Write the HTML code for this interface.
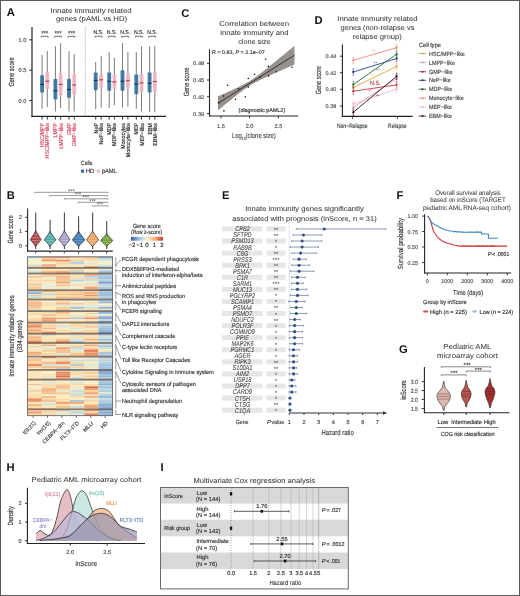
<!DOCTYPE html>
<html><head><meta charset="utf-8"><title>Figure</title>
<style>
html,body{margin:0;padding:0;background:#fff;}
body{width:520px;height:596px;overflow:hidden;}
svg{display:block;font-family:"Liberation Sans",sans-serif;will-change:transform;text-rendering:geometricPrecision;filter:blur(0.45px);}
</style></head>
<body>
<svg width="520" height="596" viewBox="0 0 520 596">
<rect x="0" y="0" width="520" height="596" fill="#ffffff"/>
<text x="6.80" y="16.40" font-size="11.2" fill="#111" font-weight="bold">A</text>
<text x="91.10" y="12.80" font-size="6.9" fill="#3a3a3a" text-anchor="middle" textLength="81.00" lengthAdjust="spacingAndGlyphs" stroke="#3a3a3a" stroke-width="0.05">Innate immunity related</text>
<text x="91.50" y="20.90" font-size="6.9" fill="#3a3a3a" text-anchor="middle" textLength="71.00" lengthAdjust="spacingAndGlyphs" stroke="#3a3a3a" stroke-width="0.05">genes (pAML vs HD)</text>
<line x1="32.00" y1="27.00" x2="32.00" y2="116.90" stroke="#222" stroke-width="1.2"/>
<line x1="31.40" y1="116.40" x2="166.00" y2="116.40" stroke="#222" stroke-width="1.2"/>
<line x1="29.30" y1="39.80" x2="32.00" y2="39.80" stroke="#222" stroke-width="1.0"/>
<text x="26.30" y="41.80" font-size="5.6" fill="#555" text-anchor="end" stroke="#555" stroke-width="0.16">1.0</text>
<line x1="29.30" y1="70.20" x2="32.00" y2="70.20" stroke="#222" stroke-width="1.0"/>
<text x="26.30" y="72.20" font-size="5.6" fill="#555" text-anchor="end" stroke="#555" stroke-width="0.16">0.5</text>
<line x1="29.30" y1="100.60" x2="32.00" y2="100.60" stroke="#222" stroke-width="1.0"/>
<text x="26.30" y="102.60" font-size="5.6" fill="#555" text-anchor="end" stroke="#555" stroke-width="0.16">0.0</text>
<text x="13.70" y="72.00" font-size="7.6" fill="#333" text-anchor="middle" textLength="29.00" lengthAdjust="spacingAndGlyphs" transform="rotate(-90 13.70 72.00)" stroke="#333" stroke-width="0.16">Gene score</text>
<line x1="85.30" y1="27.00" x2="85.30" y2="116.00" stroke="#8a8a98" stroke-width="0.8" stroke-dasharray="0.8 1.0"/>
<line x1="42.10" y1="55.00" x2="42.10" y2="108.70" stroke="#7c7c7c" stroke-width="1.0"/>
<rect x="40.15" y="75.20" width="3.90" height="17.30" fill="#2f6e9c" rx="0.8" fill-opacity="0.88"/>
<line x1="40.15" y1="84.40" x2="44.05" y2="84.40" stroke="#17324f" stroke-width="1.1"/>
<line x1="47.30" y1="51.00" x2="47.30" y2="107.00" stroke="#7c7c7c" stroke-width="1.0"/>
<rect x="45.35" y="72.10" width="3.90" height="16.90" fill="#f3b5c0" rx="0.8" fill-opacity="0.88"/>
<line x1="45.35" y1="81.20" x2="49.25" y2="81.20" stroke="#b2384f" stroke-width="1.1"/>
<line x1="55.40" y1="46.30" x2="55.40" y2="111.50" stroke="#7c7c7c" stroke-width="1.0"/>
<rect x="53.45" y="79.00" width="3.90" height="20.40" fill="#2f6e9c" rx="0.8" fill-opacity="0.88"/>
<line x1="53.45" y1="90.80" x2="57.35" y2="90.80" stroke="#17324f" stroke-width="1.1"/>
<line x1="60.60" y1="43.20" x2="60.60" y2="108.00" stroke="#7c7c7c" stroke-width="1.0"/>
<rect x="58.65" y="73.20" width="3.90" height="22.40" fill="#f3b5c0" rx="0.8" fill-opacity="0.88"/>
<line x1="58.65" y1="84.40" x2="62.55" y2="84.40" stroke="#b2384f" stroke-width="1.1"/>
<line x1="69.00" y1="51.30" x2="69.00" y2="111.50" stroke="#7c7c7c" stroke-width="1.0"/>
<rect x="67.05" y="78.70" width="3.90" height="19.00" fill="#2f6e9c" rx="0.8" fill-opacity="0.88"/>
<line x1="67.05" y1="89.60" x2="70.95" y2="89.60" stroke="#17324f" stroke-width="1.1"/>
<line x1="74.20" y1="54.00" x2="74.20" y2="111.50" stroke="#7c7c7c" stroke-width="1.0"/>
<rect x="72.25" y="74.40" width="3.90" height="20.40" fill="#f3b5c0" rx="0.8" fill-opacity="0.88"/>
<line x1="72.25" y1="85.00" x2="76.15" y2="85.00" stroke="#b2384f" stroke-width="1.1"/>
<line x1="95.70" y1="61.90" x2="95.70" y2="109.20" stroke="#7c7c7c" stroke-width="1.0"/>
<rect x="93.75" y="72.50" width="3.90" height="17.70" fill="#2f6e9c" rx="0.8" fill-opacity="0.88"/>
<line x1="93.75" y1="80.40" x2="97.65" y2="80.40" stroke="#17324f" stroke-width="1.1"/>
<line x1="101.20" y1="55.90" x2="101.20" y2="107.50" stroke="#7c7c7c" stroke-width="1.0"/>
<rect x="99.25" y="74.00" width="3.90" height="13.90" fill="#f3b5c0" rx="0.8" fill-opacity="0.88"/>
<line x1="99.25" y1="79.80" x2="103.15" y2="79.80" stroke="#b2384f" stroke-width="1.1"/>
<line x1="109.20" y1="52.10" x2="109.20" y2="108.00" stroke="#7c7c7c" stroke-width="1.0"/>
<rect x="107.25" y="72.50" width="3.90" height="18.30" fill="#2f6e9c" rx="0.8" fill-opacity="0.88"/>
<line x1="107.25" y1="81.30" x2="111.15" y2="81.30" stroke="#17324f" stroke-width="1.1"/>
<line x1="114.40" y1="57.90" x2="114.40" y2="105.20" stroke="#7c7c7c" stroke-width="1.0"/>
<rect x="112.45" y="74.40" width="3.90" height="14.60" fill="#f3b5c0" rx="0.8" fill-opacity="0.88"/>
<line x1="112.45" y1="81.90" x2="116.35" y2="81.90" stroke="#b2384f" stroke-width="1.1"/>
<line x1="122.50" y1="42.90" x2="122.50" y2="107.50" stroke="#7c7c7c" stroke-width="1.0"/>
<rect x="120.55" y="70.20" width="3.90" height="20.60" fill="#2f6e9c" rx="0.8" fill-opacity="0.88"/>
<line x1="120.55" y1="81.20" x2="124.45" y2="81.20" stroke="#17324f" stroke-width="1.1"/>
<line x1="127.90" y1="52.10" x2="127.90" y2="106.70" stroke="#7c7c7c" stroke-width="1.0"/>
<rect x="125.95" y="73.20" width="3.90" height="14.70" fill="#f3b5c0" rx="0.8" fill-opacity="0.88"/>
<line x1="125.95" y1="80.70" x2="129.85" y2="80.70" stroke="#b2384f" stroke-width="1.1"/>
<line x1="136.30" y1="52.10" x2="136.30" y2="108.70" stroke="#7c7c7c" stroke-width="1.0"/>
<rect x="134.35" y="74.40" width="3.90" height="19.80" fill="#2f6e9c" rx="0.8" fill-opacity="0.88"/>
<line x1="134.35" y1="84.10" x2="138.25" y2="84.10" stroke="#17324f" stroke-width="1.1"/>
<line x1="141.50" y1="46.30" x2="141.50" y2="111.50" stroke="#7c7c7c" stroke-width="1.0"/>
<rect x="139.55" y="74.00" width="3.90" height="18.50" fill="#f3b5c0" rx="0.8" fill-opacity="0.88"/>
<line x1="139.55" y1="82.90" x2="143.45" y2="82.90" stroke="#b2384f" stroke-width="1.1"/>
<line x1="149.60" y1="46.30" x2="149.60" y2="111.80" stroke="#7c7c7c" stroke-width="1.0"/>
<rect x="147.65" y="72.50" width="3.90" height="20.00" fill="#2f6e9c" rx="0.8" fill-opacity="0.88"/>
<line x1="147.65" y1="83.30" x2="151.55" y2="83.30" stroke="#17324f" stroke-width="1.1"/>
<line x1="154.80" y1="45.80" x2="154.80" y2="111.80" stroke="#7c7c7c" stroke-width="1.0"/>
<rect x="152.85" y="72.10" width="3.90" height="19.80" fill="#f3b5c0" rx="0.8" fill-opacity="0.88"/>
<line x1="152.85" y1="81.50" x2="156.75" y2="81.50" stroke="#b2384f" stroke-width="1.1"/>
<path d="M41.30,37.60 L41.30,36.30 L48.10,36.30 L48.10,37.60" fill="none" stroke="#333" stroke-width="0.7" />
<text x="44.70" y="35.90" font-size="7.4" fill="#333" text-anchor="middle" textLength="7.00" lengthAdjust="spacingAndGlyphs" stroke="#333" stroke-width="0.1">***</text>
<path d="M54.60,37.60 L54.60,36.30 L61.40,36.30 L61.40,37.60" fill="none" stroke="#333" stroke-width="0.7" />
<text x="58.00" y="35.90" font-size="7.4" fill="#333" text-anchor="middle" textLength="7.00" lengthAdjust="spacingAndGlyphs" stroke="#333" stroke-width="0.1">***</text>
<path d="M68.20,37.60 L68.20,36.30 L75.00,36.30 L75.00,37.60" fill="none" stroke="#333" stroke-width="0.7" />
<text x="71.60" y="35.90" font-size="7.4" fill="#333" text-anchor="middle" textLength="7.00" lengthAdjust="spacingAndGlyphs" stroke="#333" stroke-width="0.1">***</text>
<path d="M94.90,37.60 L94.90,36.30 L102.00,36.30 L102.00,37.60" fill="none" stroke="#333" stroke-width="0.7" />
<text x="98.45" y="33.70" font-size="5.6" fill="#333" text-anchor="middle" textLength="10.00" lengthAdjust="spacingAndGlyphs" stroke="#333" stroke-width="0.16">N.S.</text>
<path d="M108.40,37.60 L108.40,36.30 L115.20,36.30 L115.20,37.60" fill="none" stroke="#333" stroke-width="0.7" />
<text x="111.80" y="33.70" font-size="5.6" fill="#333" text-anchor="middle" textLength="10.00" lengthAdjust="spacingAndGlyphs" stroke="#333" stroke-width="0.16">N.S.</text>
<path d="M121.70,37.60 L121.70,36.30 L128.70,36.30 L128.70,37.60" fill="none" stroke="#333" stroke-width="0.7" />
<text x="125.20" y="33.70" font-size="5.6" fill="#333" text-anchor="middle" textLength="10.00" lengthAdjust="spacingAndGlyphs" stroke="#333" stroke-width="0.16">N.S.</text>
<path d="M135.50,37.60 L135.50,36.30 L142.30,36.30 L142.30,37.60" fill="none" stroke="#333" stroke-width="0.7" />
<text x="138.90" y="33.70" font-size="5.6" fill="#333" text-anchor="middle" textLength="10.00" lengthAdjust="spacingAndGlyphs" stroke="#333" stroke-width="0.16">N.S.</text>
<path d="M148.80,37.60 L148.80,36.30 L155.60,36.30 L155.60,37.60" fill="none" stroke="#333" stroke-width="0.7" />
<text x="152.20" y="33.70" font-size="5.6" fill="#333" text-anchor="middle" textLength="10.00" lengthAdjust="spacingAndGlyphs" stroke="#333" stroke-width="0.16">N.S.</text>
<line x1="42.10" y1="116.40" x2="42.10" y2="119.60" stroke="#222" stroke-width="0.9"/>
<text x="44.10" y="123.00" font-size="5.8" fill="#d84d66" text-anchor="end" textLength="24.31" lengthAdjust="spacingAndGlyphs" transform="rotate(-90 44.10 123.00)" stroke="#d84d66" stroke-width="0.16">HSC/MPP</text>
<line x1="47.30" y1="116.40" x2="47.30" y2="119.60" stroke="#222" stroke-width="0.9"/>
<text x="49.30" y="123.00" font-size="5.8" fill="#d84d66" text-anchor="end" textLength="35.44" lengthAdjust="spacingAndGlyphs" transform="rotate(-90 49.30 123.00)" stroke="#d84d66" stroke-width="0.16">HSC/MPP−like</text>
<line x1="55.40" y1="116.40" x2="55.40" y2="119.60" stroke="#222" stroke-width="0.9"/>
<text x="57.40" y="123.00" font-size="5.8" fill="#d84d66" text-anchor="end" textLength="14.53" lengthAdjust="spacingAndGlyphs" transform="rotate(-90 57.40 123.00)" stroke="#d84d66" stroke-width="0.16">LMPP</text>
<line x1="60.60" y1="116.40" x2="60.60" y2="119.60" stroke="#222" stroke-width="0.9"/>
<text x="62.60" y="123.00" font-size="5.8" fill="#d84d66" text-anchor="end" textLength="25.65" lengthAdjust="spacingAndGlyphs" transform="rotate(-90 62.60 123.00)" stroke="#d84d66" stroke-width="0.16">LMPP−like</text>
<line x1="69.00" y1="116.40" x2="69.00" y2="119.60" stroke="#222" stroke-width="0.9"/>
<text x="71.00" y="123.00" font-size="5.8" fill="#d84d66" text-anchor="end" textLength="12.15" lengthAdjust="spacingAndGlyphs" transform="rotate(-90 71.00 123.00)" stroke="#d84d66" stroke-width="0.16">GMP</text>
<line x1="74.20" y1="116.40" x2="74.20" y2="119.60" stroke="#222" stroke-width="0.9"/>
<text x="76.20" y="123.00" font-size="5.8" fill="#d84d66" text-anchor="end" textLength="23.28" lengthAdjust="spacingAndGlyphs" transform="rotate(-90 76.20 123.00)" stroke="#d84d66" stroke-width="0.16">GMP−like</text>
<line x1="95.70" y1="116.40" x2="95.70" y2="119.60" stroke="#222" stroke-width="0.9"/>
<text x="97.70" y="123.00" font-size="5.8" fill="#333" text-anchor="end" textLength="10.38" lengthAdjust="spacingAndGlyphs" transform="rotate(-90 97.70 123.00)" stroke="#333" stroke-width="0.16">NeP</text>
<line x1="101.20" y1="116.40" x2="101.20" y2="119.60" stroke="#222" stroke-width="0.9"/>
<text x="103.20" y="123.00" font-size="5.8" fill="#333" text-anchor="end" textLength="21.50" lengthAdjust="spacingAndGlyphs" transform="rotate(-90 103.20 123.00)" stroke="#333" stroke-width="0.16">NeP−like</text>
<line x1="109.20" y1="116.40" x2="109.20" y2="119.60" stroke="#222" stroke-width="0.9"/>
<text x="111.20" y="123.00" font-size="5.8" fill="#333" text-anchor="end" textLength="11.86" lengthAdjust="spacingAndGlyphs" transform="rotate(-90 111.20 123.00)" stroke="#333" stroke-width="0.16">MDP</text>
<line x1="114.40" y1="116.40" x2="114.40" y2="119.60" stroke="#222" stroke-width="0.9"/>
<text x="116.40" y="123.00" font-size="5.8" fill="#333" text-anchor="end" textLength="22.98" lengthAdjust="spacingAndGlyphs" transform="rotate(-90 116.40 123.00)" stroke="#333" stroke-width="0.16">MDP−like</text>
<line x1="122.50" y1="116.40" x2="122.50" y2="119.60" stroke="#222" stroke-width="0.9"/>
<text x="124.50" y="123.00" font-size="5.8" fill="#333" text-anchor="end" textLength="25.80" lengthAdjust="spacingAndGlyphs" transform="rotate(-90 124.50 123.00)" stroke="#333" stroke-width="0.16">Monocytes</text>
<line x1="127.90" y1="116.40" x2="127.90" y2="119.60" stroke="#222" stroke-width="0.9"/>
<text x="129.90" y="123.00" font-size="5.8" fill="#333" text-anchor="end" textLength="34.26" lengthAdjust="spacingAndGlyphs" transform="rotate(-90 129.90 123.00)" stroke="#333" stroke-width="0.16">Monocyte−like</text>
<line x1="136.30" y1="116.40" x2="136.30" y2="119.60" stroke="#222" stroke-width="0.9"/>
<text x="138.30" y="123.00" font-size="5.8" fill="#333" text-anchor="end" textLength="11.56" lengthAdjust="spacingAndGlyphs" transform="rotate(-90 138.30 123.00)" stroke="#333" stroke-width="0.16">MEP</text>
<line x1="141.50" y1="116.40" x2="141.50" y2="119.60" stroke="#222" stroke-width="0.9"/>
<text x="143.50" y="123.00" font-size="5.8" fill="#333" text-anchor="end" textLength="22.69" lengthAdjust="spacingAndGlyphs" transform="rotate(-90 143.50 123.00)" stroke="#333" stroke-width="0.16">MEP−like</text>
<line x1="149.60" y1="116.40" x2="149.60" y2="119.60" stroke="#222" stroke-width="0.9"/>
<text x="151.60" y="123.00" font-size="5.8" fill="#333" text-anchor="end" textLength="11.56" lengthAdjust="spacingAndGlyphs" transform="rotate(-90 151.60 123.00)" stroke="#333" stroke-width="0.16">EBM</text>
<line x1="154.80" y1="116.40" x2="154.80" y2="119.60" stroke="#222" stroke-width="0.9"/>
<text x="156.80" y="123.00" font-size="5.8" fill="#333" text-anchor="end" textLength="22.69" lengthAdjust="spacingAndGlyphs" transform="rotate(-90 156.80 123.00)" stroke="#333" stroke-width="0.16">EBM−like</text>
<text x="81.00" y="165.30" font-size="6.0" fill="#333" textLength="11.20" lengthAdjust="spacingAndGlyphs" stroke="#333" stroke-width="0.16">Cells</text>
<rect x="81.00" y="169.60" width="3.10" height="3.10" fill="#2f6e9c"/>
<text x="86.00" y="172.90" font-size="6.2" fill="#333" textLength="8.20" lengthAdjust="spacingAndGlyphs" stroke="#333" stroke-width="0.16">HD</text>
<rect x="96.80" y="169.60" width="3.10" height="3.10" fill="#f3b5c0"/>
<text x="101.70" y="172.90" font-size="6.2" fill="#333" textLength="15.00" lengthAdjust="spacingAndGlyphs" stroke="#333" stroke-width="0.16">pAML</text>
<text x="6.80" y="199.00" font-size="11.2" fill="#111" font-weight="bold">B</text>
<line x1="34.80" y1="192.30" x2="107.90" y2="192.30" stroke="#555" stroke-width="0.6"/>
<line x1="34.80" y1="192.30" x2="34.80" y2="193.30" stroke="#555" stroke-width="0.6"/>
<line x1="107.90" y1="192.30" x2="107.90" y2="193.30" stroke="#555" stroke-width="0.6"/>
<text x="71.30" y="192.60" font-size="5.6" fill="#555" text-anchor="middle" stroke="#555" stroke-width="0.05">***</text>
<line x1="49.20" y1="195.60" x2="107.90" y2="195.60" stroke="#555" stroke-width="0.6"/>
<line x1="49.20" y1="195.60" x2="49.20" y2="196.60" stroke="#555" stroke-width="0.6"/>
<line x1="107.90" y1="195.60" x2="107.90" y2="196.60" stroke="#555" stroke-width="0.6"/>
<text x="78.00" y="195.90" font-size="5.6" fill="#555" text-anchor="middle" stroke="#555" stroke-width="0.05">***</text>
<line x1="64.20" y1="198.80" x2="107.90" y2="198.80" stroke="#555" stroke-width="0.6"/>
<line x1="64.20" y1="198.80" x2="64.20" y2="199.80" stroke="#555" stroke-width="0.6"/>
<line x1="107.90" y1="198.80" x2="107.90" y2="199.80" stroke="#555" stroke-width="0.6"/>
<text x="85.80" y="199.10" font-size="5.6" fill="#555" text-anchor="middle" stroke="#555" stroke-width="0.05">***</text>
<line x1="78.00" y1="202.30" x2="107.90" y2="202.30" stroke="#555" stroke-width="0.6"/>
<line x1="78.00" y1="202.30" x2="78.00" y2="203.30" stroke="#555" stroke-width="0.6"/>
<line x1="107.90" y1="202.30" x2="107.90" y2="203.30" stroke="#555" stroke-width="0.6"/>
<text x="92.50" y="202.60" font-size="5.6" fill="#555" text-anchor="middle" stroke="#555" stroke-width="0.05">***</text>
<line x1="92.50" y1="205.80" x2="107.90" y2="205.80" stroke="#555" stroke-width="0.6"/>
<line x1="92.50" y1="205.80" x2="92.50" y2="206.80" stroke="#555" stroke-width="0.6"/>
<line x1="107.90" y1="205.80" x2="107.90" y2="206.80" stroke="#555" stroke-width="0.6"/>
<text x="100.20" y="206.10" font-size="5.6" fill="#555" text-anchor="middle" stroke="#555" stroke-width="0.05">***</text>
<line x1="27.60" y1="208.50" x2="27.60" y2="251.60" stroke="#222" stroke-width="1.1"/>
<line x1="27.10" y1="251.10" x2="112.80" y2="251.10" stroke="#222" stroke-width="1.1"/>
<line x1="25.20" y1="217.30" x2="27.60" y2="217.30" stroke="#222" stroke-width="0.9"/>
<text x="22.00" y="219.30" font-size="5.6" fill="#555" text-anchor="end" stroke="#555" stroke-width="0.16">2</text>
<line x1="25.20" y1="231.40" x2="27.60" y2="231.40" stroke="#222" stroke-width="0.9"/>
<text x="22.00" y="233.40" font-size="5.6" fill="#555" text-anchor="end" stroke="#555" stroke-width="0.16">1</text>
<line x1="25.20" y1="245.80" x2="27.60" y2="245.80" stroke="#222" stroke-width="0.9"/>
<text x="22.00" y="247.80" font-size="5.6" fill="#555" text-anchor="end" stroke="#555" stroke-width="0.16">0</text>
<text x="13.00" y="229.40" font-size="7.6" fill="#333" text-anchor="middle" textLength="28.20" lengthAdjust="spacingAndGlyphs" transform="rotate(-90 13.00 229.40)" stroke="#333" stroke-width="0.16">Gene score</text>
<line x1="35.70" y1="212.60" x2="35.70" y2="232.30" stroke="#4a4a4a" stroke-width="1.1"/>
<line x1="35.70" y1="245.00" x2="35.70" y2="249.00" stroke="#4a4a4a" stroke-width="1.1"/>
<path d="M35.70,230.70 Q33.78,234.24 30.20,239.70 Q33.78,243.48 35.70,246.60 Q37.62,243.48 41.20,239.70 Q37.62,234.24 35.70,230.70 Z" fill="#b4464b" stroke="#2a2a2a" stroke-width="0.65" />
<line x1="33.85" y1="234.83" x2="37.55" y2="234.83" stroke="#ffffff" stroke-width="0.45" stroke-opacity="0.75"/>
<line x1="32.23" y1="237.60" x2="39.17" y2="237.60" stroke="#ffffff" stroke-width="0.45" stroke-opacity="0.75"/>
<line x1="31.74" y1="240.60" x2="39.66" y2="240.60" stroke="#ffffff" stroke-width="0.45" stroke-opacity="0.75"/>
<line x1="33.70" y1="243.16" x2="37.70" y2="243.16" stroke="#ffffff" stroke-width="0.45" stroke-opacity="0.75"/>
<line x1="35.60" y1="251.10" x2="35.60" y2="253.50" stroke="#222" stroke-width="0.8"/>
<line x1="50.10" y1="219.70" x2="50.10" y2="232.80" stroke="#4a4a4a" stroke-width="1.1"/>
<line x1="50.10" y1="245.00" x2="50.10" y2="249.00" stroke="#4a4a4a" stroke-width="1.1"/>
<path d="M50.10,231.20 Q48.07,234.63 44.30,239.90 Q48.07,243.56 50.10,246.60 Q52.13,243.56 55.90,239.90 Q52.13,234.63 50.10,231.20 Z" fill="#4ea9a3" stroke="#2a2a2a" stroke-width="0.65" />
<line x1="48.10" y1="235.20" x2="52.10" y2="235.20" stroke="#ffffff" stroke-width="0.45" stroke-opacity="0.75"/>
<line x1="46.39" y1="237.88" x2="53.81" y2="237.88" stroke="#ffffff" stroke-width="0.45" stroke-opacity="0.75"/>
<line x1="45.90" y1="240.80" x2="54.30" y2="240.80" stroke="#ffffff" stroke-width="0.45" stroke-opacity="0.75"/>
<line x1="47.94" y1="243.25" x2="52.26" y2="243.25" stroke="#ffffff" stroke-width="0.45" stroke-opacity="0.75"/>
<line x1="50.00" y1="251.10" x2="50.00" y2="253.50" stroke="#222" stroke-width="0.8"/>
<line x1="64.40" y1="212.60" x2="64.40" y2="232.30" stroke="#4a4a4a" stroke-width="1.1"/>
<line x1="64.40" y1="245.00" x2="64.40" y2="249.00" stroke="#4a4a4a" stroke-width="1.1"/>
<path d="M64.40,230.70 Q62.44,234.24 58.80,239.70 Q62.44,243.48 64.40,246.60 Q66.36,243.48 70.00,239.70 Q66.36,234.24 64.40,230.70 Z" fill="#a4a0cc" stroke="#2a2a2a" stroke-width="0.65" />
<line x1="62.50" y1="234.83" x2="66.30" y2="234.83" stroke="#ffffff" stroke-width="0.45" stroke-opacity="0.75"/>
<line x1="60.85" y1="237.60" x2="67.95" y2="237.60" stroke="#ffffff" stroke-width="0.45" stroke-opacity="0.75"/>
<line x1="60.35" y1="240.60" x2="68.45" y2="240.60" stroke="#ffffff" stroke-width="0.45" stroke-opacity="0.75"/>
<line x1="62.34" y1="243.16" x2="66.46" y2="243.16" stroke="#ffffff" stroke-width="0.45" stroke-opacity="0.75"/>
<line x1="64.30" y1="251.10" x2="64.30" y2="253.50" stroke="#222" stroke-width="0.8"/>
<line x1="78.60" y1="216.20" x2="78.60" y2="232.80" stroke="#4a4a4a" stroke-width="1.1"/>
<line x1="78.60" y1="245.00" x2="78.60" y2="249.00" stroke="#4a4a4a" stroke-width="1.1"/>
<path d="M78.60,231.20 Q76.39,234.63 72.30,239.90 Q76.39,243.56 78.60,246.60 Q80.80,243.56 84.90,239.90 Q80.80,234.63 78.60,231.20 Z" fill="#3b77b1" stroke="#2a2a2a" stroke-width="0.65" />
<line x1="76.35" y1="235.20" x2="80.85" y2="235.20" stroke="#ffffff" stroke-width="0.45" stroke-opacity="0.75"/>
<line x1="74.50" y1="237.88" x2="82.70" y2="237.88" stroke="#ffffff" stroke-width="0.45" stroke-opacity="0.75"/>
<line x1="73.96" y1="240.80" x2="83.24" y2="240.80" stroke="#ffffff" stroke-width="0.45" stroke-opacity="0.75"/>
<line x1="76.17" y1="243.25" x2="81.03" y2="243.25" stroke="#ffffff" stroke-width="0.45" stroke-opacity="0.75"/>
<line x1="78.50" y1="251.10" x2="78.50" y2="253.50" stroke="#222" stroke-width="0.8"/>
<line x1="92.60" y1="212.40" x2="92.60" y2="232.80" stroke="#4a4a4a" stroke-width="1.1"/>
<line x1="92.60" y1="245.00" x2="92.60" y2="249.00" stroke="#4a4a4a" stroke-width="1.1"/>
<path d="M92.60,231.20 Q90.39,234.63 86.30,239.90 Q90.39,243.56 92.60,246.60 Q94.80,243.56 98.90,239.90 Q94.80,234.63 92.60,231.20 Z" fill="#f0a262" stroke="#2a2a2a" stroke-width="0.65" />
<line x1="90.35" y1="235.20" x2="94.85" y2="235.20" stroke="#ffffff" stroke-width="0.45" stroke-opacity="0.75"/>
<line x1="88.50" y1="237.88" x2="96.70" y2="237.88" stroke="#ffffff" stroke-width="0.45" stroke-opacity="0.75"/>
<line x1="87.96" y1="240.80" x2="97.24" y2="240.80" stroke="#ffffff" stroke-width="0.45" stroke-opacity="0.75"/>
<line x1="90.17" y1="243.25" x2="95.03" y2="243.25" stroke="#ffffff" stroke-width="0.45" stroke-opacity="0.75"/>
<line x1="92.50" y1="251.10" x2="92.50" y2="253.50" stroke="#222" stroke-width="0.8"/>
<line x1="106.70" y1="220.90" x2="106.70" y2="235.30" stroke="#4a4a4a" stroke-width="1.1"/>
<line x1="106.70" y1="245.00" x2="106.70" y2="249.00" stroke="#4a4a4a" stroke-width="1.1"/>
<path d="M106.70,233.70 Q104.56,236.47 100.60,240.50 Q104.56,243.80 106.70,246.60 Q108.84,243.80 112.80,240.50 Q108.84,236.47 106.70,233.70 Z" fill="#6e9a2a" stroke="#2a2a2a" stroke-width="0.65" />
<line x1="104.55" y1="236.90" x2="108.85" y2="236.90" stroke="#ffffff" stroke-width="0.45" stroke-opacity="0.75"/>
<line x1="102.75" y1="238.95" x2="110.65" y2="238.95" stroke="#ffffff" stroke-width="0.45" stroke-opacity="0.75"/>
<line x1="102.31" y1="241.40" x2="111.09" y2="241.40" stroke="#ffffff" stroke-width="0.45" stroke-opacity="0.75"/>
<line x1="104.38" y1="243.53" x2="109.02" y2="243.53" stroke="#ffffff" stroke-width="0.45" stroke-opacity="0.75"/>
<line x1="106.60" y1="251.10" x2="106.60" y2="253.50" stroke="#222" stroke-width="0.8"/>
<text x="146.80" y="227.90" font-size="6.0" fill="#333" text-anchor="middle" textLength="27.70" lengthAdjust="spacingAndGlyphs" stroke="#333" stroke-width="0.16">Gene score</text>
<text x="146.60" y="233.90" font-size="6.0" fill="#333" text-anchor="middle" textLength="31.00" lengthAdjust="spacingAndGlyphs" stroke="#333" stroke-width="0.16">(Row z-score)</text>
<defs><linearGradient id="cb" x1="0" x2="1" y1="0" y2="0"><stop offset="0" stop-color="#3b5b9a"/><stop offset="0.25" stop-color="#9cc3e2"/><stop offset="0.5" stop-color="#fbf6d6"/><stop offset="0.75" stop-color="#f8b070"/><stop offset="1" stop-color="#c8352a"/></linearGradient></defs>
<rect x="131.00" y="236.80" width="31.90" height="3.90" fill="url(#cb)"/>
<text x="132.00" y="246.60" font-size="6.0" fill="#333" text-anchor="middle" stroke="#333" stroke-width="0.16">−2</text>
<text x="139.60" y="246.60" font-size="6.0" fill="#333" text-anchor="middle" stroke="#333" stroke-width="0.16">−1</text>
<text x="147.00" y="246.60" font-size="6.0" fill="#333" text-anchor="middle" stroke="#333" stroke-width="0.16">0</text>
<text x="154.40" y="246.60" font-size="6.0" fill="#333" text-anchor="middle" stroke="#333" stroke-width="0.16">1</text>
<text x="161.80" y="246.60" font-size="6.0" fill="#333" text-anchor="middle" stroke="#333" stroke-width="0.16">2</text>
<rect x="27.60" y="256.80" width="14.22" height="1.65" fill="#a3c6df"/>
<rect x="41.77" y="256.80" width="14.22" height="1.65" fill="#f1a878"/>
<rect x="55.93" y="256.80" width="14.22" height="1.65" fill="#ec9a6c"/>
<rect x="70.10" y="256.80" width="14.22" height="1.65" fill="#f8cd98"/>
<rect x="84.27" y="256.80" width="14.22" height="1.65" fill="#f7c591"/>
<rect x="98.43" y="256.80" width="14.22" height="1.65" fill="#84a9d2"/>
<rect x="27.60" y="258.40" width="14.22" height="1.35" fill="#f3eeca"/>
<rect x="41.77" y="258.40" width="14.22" height="1.35" fill="#f6b986"/>
<rect x="55.93" y="258.40" width="14.22" height="1.35" fill="#e7eacf"/>
<rect x="70.10" y="258.40" width="14.22" height="1.35" fill="#f9dfae"/>
<rect x="84.27" y="258.40" width="14.22" height="1.35" fill="#f7c793"/>
<rect x="98.43" y="258.40" width="14.22" height="1.35" fill="#bed6db"/>
<rect x="27.60" y="259.70" width="14.22" height="1.95" fill="#f9ebc0"/>
<rect x="41.77" y="259.70" width="14.22" height="1.95" fill="#ed9c6e"/>
<rect x="55.93" y="259.70" width="14.22" height="1.95" fill="#e88c61"/>
<rect x="70.10" y="259.70" width="14.22" height="1.95" fill="#f8cc97"/>
<rect x="84.27" y="259.70" width="14.22" height="1.95" fill="#f9e4b5"/>
<rect x="98.43" y="259.70" width="14.22" height="1.95" fill="#e1e8d2"/>
<rect x="27.60" y="261.60" width="14.22" height="2.55" fill="#f5efca"/>
<rect x="41.77" y="261.60" width="14.22" height="2.55" fill="#f6efc9"/>
<rect x="55.93" y="261.60" width="14.22" height="2.55" fill="#f9d59f"/>
<rect x="70.10" y="261.60" width="14.22" height="2.55" fill="#b5d1dd"/>
<rect x="84.27" y="261.60" width="14.22" height="2.55" fill="#e6e9d0"/>
<rect x="98.43" y="261.60" width="14.22" height="2.55" fill="#f7efc9"/>
<rect x="27.60" y="264.10" width="14.22" height="1.05" fill="#e4e9d0"/>
<rect x="41.77" y="264.10" width="14.22" height="1.05" fill="#f3ad7c"/>
<rect x="55.93" y="264.10" width="14.22" height="1.05" fill="#f9ddab"/>
<rect x="70.10" y="264.10" width="14.22" height="1.05" fill="#f9e0af"/>
<rect x="84.27" y="264.10" width="14.22" height="1.05" fill="#f9e1b1"/>
<rect x="98.43" y="264.10" width="14.22" height="1.05" fill="#ececcd"/>
<rect x="27.60" y="265.10" width="14.22" height="1.05" fill="#b9d3dc"/>
<rect x="41.77" y="265.10" width="14.22" height="1.05" fill="#f0a474"/>
<rect x="55.93" y="265.10" width="14.22" height="1.05" fill="#f9daa7"/>
<rect x="70.10" y="265.10" width="14.22" height="1.05" fill="#f9e0af"/>
<rect x="84.27" y="265.10" width="14.22" height="1.05" fill="#f9e9bd"/>
<rect x="98.43" y="265.10" width="14.22" height="1.05" fill="#c8dcd9"/>
<rect x="27.60" y="266.10" width="14.22" height="2.25" fill="#f8d19b"/>
<rect x="41.77" y="266.10" width="14.22" height="2.25" fill="#f5b885"/>
<rect x="55.93" y="266.10" width="14.22" height="2.25" fill="#f4eeca"/>
<rect x="70.10" y="266.10" width="14.22" height="2.25" fill="#f9eec5"/>
<rect x="84.27" y="266.10" width="14.22" height="2.25" fill="#ed9d6f"/>
<rect x="98.43" y="266.10" width="14.22" height="2.25" fill="#b3d0dd"/>
<rect x="27.60" y="268.30" width="14.22" height="1.05" fill="#caddd9"/>
<rect x="41.77" y="268.30" width="14.22" height="1.05" fill="#f6bd8a"/>
<rect x="55.93" y="268.30" width="14.22" height="1.05" fill="#f9d49f"/>
<rect x="70.10" y="268.30" width="14.22" height="1.05" fill="#f9d8a3"/>
<rect x="84.27" y="268.30" width="14.22" height="1.05" fill="#f8cc97"/>
<rect x="98.43" y="268.30" width="14.22" height="1.05" fill="#cddfd8"/>
<rect x="27.60" y="269.30" width="14.22" height="1.65" fill="#efedcc"/>
<rect x="41.77" y="269.30" width="14.22" height="1.65" fill="#f9e1b0"/>
<rect x="55.93" y="269.30" width="14.22" height="1.65" fill="#f9e6b9"/>
<rect x="70.10" y="269.30" width="14.22" height="1.65" fill="#f8cf9a"/>
<rect x="84.27" y="269.30" width="14.22" height="1.65" fill="#f6efc9"/>
<rect x="98.43" y="269.30" width="14.22" height="1.65" fill="#c7dbd9"/>
<rect x="27.60" y="270.90" width="14.22" height="2.25" fill="#d8e5d5"/>
<rect x="41.77" y="270.90" width="14.22" height="2.25" fill="#f6be8a"/>
<rect x="55.93" y="270.90" width="14.22" height="2.25" fill="#f3ad7c"/>
<rect x="70.10" y="270.90" width="14.22" height="2.25" fill="#bcd5db"/>
<rect x="84.27" y="270.90" width="14.22" height="2.25" fill="#f9e6b9"/>
<rect x="98.43" y="270.90" width="14.22" height="2.25" fill="#a3c5df"/>
<rect x="27.60" y="273.10" width="14.22" height="1.05" fill="#d4e3d6"/>
<rect x="41.77" y="273.10" width="14.22" height="1.05" fill="#f9d6a0"/>
<rect x="55.93" y="273.10" width="14.22" height="1.05" fill="#e98e62"/>
<rect x="70.10" y="273.10" width="14.22" height="1.05" fill="#e6e9d0"/>
<rect x="84.27" y="273.10" width="14.22" height="1.05" fill="#e8eacf"/>
<rect x="98.43" y="273.10" width="14.22" height="1.05" fill="#a3c5df"/>
<rect x="27.60" y="274.10" width="14.22" height="2.25" fill="#f9ebc0"/>
<rect x="41.77" y="274.10" width="14.22" height="2.25" fill="#f8d09b"/>
<rect x="55.93" y="274.10" width="14.22" height="2.25" fill="#f9d8a3"/>
<rect x="70.10" y="274.10" width="14.22" height="2.25" fill="#f9e5b7"/>
<rect x="84.27" y="274.10" width="14.22" height="2.25" fill="#f6bb89"/>
<rect x="98.43" y="274.10" width="14.22" height="2.25" fill="#abcbdf"/>
<rect x="27.60" y="276.30" width="14.22" height="1.35" fill="#f1a878"/>
<rect x="41.77" y="276.30" width="14.22" height="1.35" fill="#f8ca96"/>
<rect x="55.93" y="276.30" width="14.22" height="1.35" fill="#ee9e6f"/>
<rect x="70.10" y="276.30" width="14.22" height="1.35" fill="#f9daa6"/>
<rect x="84.27" y="276.30" width="14.22" height="1.35" fill="#a6c8e0"/>
<rect x="98.43" y="276.30" width="14.22" height="1.35" fill="#9ec1dd"/>
<rect x="27.60" y="277.60" width="14.22" height="1.05" fill="#f9d9a5"/>
<rect x="41.77" y="277.60" width="14.22" height="1.05" fill="#f9edc3"/>
<rect x="55.93" y="277.60" width="14.22" height="1.05" fill="#f6bc89"/>
<rect x="70.10" y="277.60" width="14.22" height="1.05" fill="#f9d59f"/>
<rect x="84.27" y="277.60" width="14.22" height="1.05" fill="#c8dcd9"/>
<rect x="98.43" y="277.60" width="14.22" height="1.05" fill="#7ba1ce"/>
<rect x="27.60" y="278.60" width="14.22" height="1.05" fill="#f9ebc0"/>
<rect x="41.77" y="278.60" width="14.22" height="1.05" fill="#ebebcd"/>
<rect x="55.93" y="278.60" width="14.22" height="1.05" fill="#f0a475"/>
<rect x="70.10" y="278.60" width="14.22" height="1.05" fill="#f9daa6"/>
<rect x="84.27" y="278.60" width="14.22" height="1.05" fill="#f6b987"/>
<rect x="98.43" y="278.60" width="14.22" height="1.05" fill="#a9cadf"/>
<rect x="27.60" y="279.60" width="14.22" height="1.95" fill="#f9d7a1"/>
<rect x="41.77" y="279.60" width="14.22" height="1.95" fill="#f9d7a1"/>
<rect x="55.93" y="279.60" width="14.22" height="1.95" fill="#f7c591"/>
<rect x="70.10" y="279.60" width="14.22" height="1.95" fill="#aecdde"/>
<rect x="84.27" y="279.60" width="14.22" height="1.95" fill="#cee0d8"/>
<rect x="98.43" y="279.60" width="14.22" height="1.95" fill="#b6d1dd"/>
<rect x="27.60" y="281.50" width="14.22" height="1.95" fill="#f9e4b6"/>
<rect x="41.77" y="281.50" width="14.22" height="1.95" fill="#f9e8bb"/>
<rect x="55.93" y="281.50" width="14.22" height="1.95" fill="#efa374"/>
<rect x="70.10" y="281.50" width="14.22" height="1.95" fill="#edeccd"/>
<rect x="84.27" y="281.50" width="14.22" height="1.95" fill="#edeccd"/>
<rect x="98.43" y="281.50" width="14.22" height="1.95" fill="#769dcc"/>
<rect x="27.60" y="283.40" width="14.22" height="1.05" fill="#f8ce99"/>
<rect x="41.77" y="283.40" width="14.22" height="1.05" fill="#e5e9d0"/>
<rect x="55.93" y="283.40" width="14.22" height="1.05" fill="#f8cf9a"/>
<rect x="70.10" y="283.40" width="14.22" height="1.05" fill="#eaebce"/>
<rect x="84.27" y="283.40" width="14.22" height="1.05" fill="#f8ca95"/>
<rect x="98.43" y="283.40" width="14.22" height="1.05" fill="#92b6d8"/>
<rect x="27.60" y="284.40" width="14.22" height="1.35" fill="#f4b280"/>
<rect x="41.77" y="284.40" width="14.22" height="1.35" fill="#f3eecb"/>
<rect x="55.93" y="284.40" width="14.22" height="1.35" fill="#f6bd8a"/>
<rect x="70.10" y="284.40" width="14.22" height="1.35" fill="#f8ca95"/>
<rect x="84.27" y="284.40" width="14.22" height="1.35" fill="#d3e2d7"/>
<rect x="98.43" y="284.40" width="14.22" height="1.35" fill="#aecdde"/>
<rect x="27.60" y="285.70" width="14.22" height="1.05" fill="#efeccc"/>
<rect x="41.77" y="285.70" width="14.22" height="1.05" fill="#d7e4d5"/>
<rect x="55.93" y="285.70" width="14.22" height="1.05" fill="#f7c490"/>
<rect x="70.10" y="285.70" width="14.22" height="1.05" fill="#dde6d3"/>
<rect x="84.27" y="285.70" width="14.22" height="1.05" fill="#f9dead"/>
<rect x="98.43" y="285.70" width="14.22" height="1.05" fill="#d2e2d7"/>
<rect x="27.60" y="286.70" width="14.22" height="2.25" fill="#f7c793"/>
<rect x="41.77" y="286.70" width="14.22" height="2.25" fill="#eeeccd"/>
<rect x="55.93" y="286.70" width="14.22" height="2.25" fill="#eeeccc"/>
<rect x="70.10" y="286.70" width="14.22" height="2.25" fill="#f9eec5"/>
<rect x="84.27" y="286.70" width="14.22" height="2.25" fill="#efa172"/>
<rect x="98.43" y="286.70" width="14.22" height="2.25" fill="#abcbdf"/>
<rect x="27.60" y="288.90" width="14.22" height="1.95" fill="#f9e3b4"/>
<rect x="41.77" y="288.90" width="14.22" height="1.95" fill="#f9e2b3"/>
<rect x="55.93" y="288.90" width="14.22" height="1.95" fill="#f9deac"/>
<rect x="70.10" y="288.90" width="14.22" height="1.95" fill="#e1e8d2"/>
<rect x="84.27" y="288.90" width="14.22" height="1.95" fill="#f8ce99"/>
<rect x="98.43" y="288.90" width="14.22" height="1.95" fill="#85aad2"/>
<rect x="27.60" y="290.80" width="14.22" height="1.05" fill="#cbded8"/>
<rect x="41.77" y="290.80" width="14.22" height="1.05" fill="#ee9e70"/>
<rect x="55.93" y="290.80" width="14.22" height="1.05" fill="#f8ca96"/>
<rect x="70.10" y="290.80" width="14.22" height="1.05" fill="#f7c793"/>
<rect x="84.27" y="290.80" width="14.22" height="1.05" fill="#f9eabf"/>
<rect x="98.43" y="290.80" width="14.22" height="1.05" fill="#b5d1dd"/>
<rect x="27.60" y="291.80" width="14.22" height="2.25" fill="#93b7d8"/>
<rect x="41.77" y="291.80" width="14.22" height="2.25" fill="#f9e2b2"/>
<rect x="55.93" y="291.80" width="14.22" height="2.25" fill="#f9daa6"/>
<rect x="70.10" y="291.80" width="14.22" height="2.25" fill="#f8d19b"/>
<rect x="84.27" y="291.80" width="14.22" height="2.25" fill="#f4b281"/>
<rect x="98.43" y="291.80" width="14.22" height="2.25" fill="#a0c2dd"/>
<rect x="27.60" y="294.00" width="14.22" height="1.05" fill="#dee7d3"/>
<rect x="41.77" y="294.00" width="14.22" height="1.05" fill="#bfd6db"/>
<rect x="55.93" y="294.00" width="14.22" height="1.05" fill="#f6be8b"/>
<rect x="70.10" y="294.00" width="14.22" height="1.05" fill="#f5b684"/>
<rect x="84.27" y="294.00" width="14.22" height="1.05" fill="#f9d59f"/>
<rect x="98.43" y="294.00" width="14.22" height="1.05" fill="#9cbedc"/>
<rect x="27.60" y="295.00" width="14.22" height="1.35" fill="#f7c591"/>
<rect x="41.77" y="295.00" width="14.22" height="1.35" fill="#e3e9d1"/>
<rect x="55.93" y="295.00" width="14.22" height="1.35" fill="#f9e1b0"/>
<rect x="70.10" y="295.00" width="14.22" height="1.35" fill="#f9daa6"/>
<rect x="84.27" y="295.00" width="14.22" height="1.35" fill="#eb9669"/>
<rect x="98.43" y="295.00" width="14.22" height="1.35" fill="#9fc1dd"/>
<rect x="27.60" y="296.30" width="14.22" height="2.55" fill="#caddd8"/>
<rect x="41.77" y="296.30" width="14.22" height="2.55" fill="#f9e0af"/>
<rect x="55.93" y="296.30" width="14.22" height="2.55" fill="#f7c692"/>
<rect x="70.10" y="296.30" width="14.22" height="2.55" fill="#f7c490"/>
<rect x="84.27" y="296.30" width="14.22" height="2.55" fill="#f7c692"/>
<rect x="98.43" y="296.30" width="14.22" height="2.55" fill="#aecdde"/>
<rect x="27.60" y="298.80" width="14.22" height="2.55" fill="#f9ecc1"/>
<rect x="41.77" y="298.80" width="14.22" height="2.55" fill="#efeccc"/>
<rect x="55.93" y="298.80" width="14.22" height="2.55" fill="#f9e4b6"/>
<rect x="70.10" y="298.80" width="14.22" height="2.55" fill="#cfe0d7"/>
<rect x="84.27" y="298.80" width="14.22" height="2.55" fill="#d0e1d7"/>
<rect x="98.43" y="298.80" width="14.22" height="2.55" fill="#b2cfdd"/>
<rect x="27.60" y="301.30" width="14.22" height="2.25" fill="#f6bb88"/>
<rect x="41.77" y="301.30" width="14.22" height="2.25" fill="#f9ecc2"/>
<rect x="55.93" y="301.30" width="14.22" height="2.25" fill="#f9d39e"/>
<rect x="70.10" y="301.30" width="14.22" height="2.25" fill="#f9edc3"/>
<rect x="84.27" y="301.30" width="14.22" height="2.25" fill="#f9e2b2"/>
<rect x="98.43" y="301.30" width="14.22" height="2.25" fill="#98bbda"/>
<rect x="27.60" y="303.50" width="14.22" height="1.05" fill="#ed9d6f"/>
<rect x="41.77" y="303.50" width="14.22" height="1.05" fill="#f7c591"/>
<rect x="55.93" y="303.50" width="14.22" height="1.05" fill="#e5845a"/>
<rect x="70.10" y="303.50" width="14.22" height="1.05" fill="#ed9c6e"/>
<rect x="84.27" y="303.50" width="14.22" height="1.05" fill="#f9dcaa"/>
<rect x="98.43" y="303.50" width="14.22" height="1.05" fill="#f9e7bb"/>
<rect x="27.60" y="304.50" width="14.22" height="2.25" fill="#f5b684"/>
<rect x="41.77" y="304.50" width="14.22" height="2.25" fill="#f9e2b3"/>
<rect x="55.93" y="304.50" width="14.22" height="2.25" fill="#e3e8d1"/>
<rect x="70.10" y="304.50" width="14.22" height="2.25" fill="#f9ebc1"/>
<rect x="84.27" y="304.50" width="14.22" height="2.25" fill="#e0e8d2"/>
<rect x="98.43" y="304.50" width="14.22" height="2.25" fill="#edeccd"/>
<rect x="27.60" y="306.70" width="14.22" height="2.25" fill="#f7c994"/>
<rect x="41.77" y="306.70" width="14.22" height="2.25" fill="#f9eec5"/>
<rect x="55.93" y="306.70" width="14.22" height="2.25" fill="#f8d19b"/>
<rect x="70.10" y="306.70" width="14.22" height="2.25" fill="#a1c4de"/>
<rect x="84.27" y="306.70" width="14.22" height="2.25" fill="#cfe0d7"/>
<rect x="98.43" y="306.70" width="14.22" height="2.25" fill="#97bada"/>
<rect x="27.60" y="308.90" width="14.22" height="1.95" fill="#d8e5d5"/>
<rect x="41.77" y="308.90" width="14.22" height="1.95" fill="#f9ebc1"/>
<rect x="55.93" y="308.90" width="14.22" height="1.95" fill="#f6be8a"/>
<rect x="70.10" y="308.90" width="14.22" height="1.95" fill="#f1edcb"/>
<rect x="84.27" y="308.90" width="14.22" height="1.95" fill="#f9dcaa"/>
<rect x="98.43" y="308.90" width="14.22" height="1.95" fill="#e9eacf"/>
<rect x="27.60" y="310.80" width="14.22" height="1.05" fill="#f4b07e"/>
<rect x="41.77" y="310.80" width="14.22" height="1.05" fill="#f9efc7"/>
<rect x="55.93" y="310.80" width="14.22" height="1.05" fill="#d3e2d7"/>
<rect x="70.10" y="310.80" width="14.22" height="1.05" fill="#c0d7db"/>
<rect x="84.27" y="310.80" width="14.22" height="1.05" fill="#f8ca95"/>
<rect x="98.43" y="310.80" width="14.22" height="1.05" fill="#a5c7df"/>
<rect x="27.60" y="311.80" width="14.22" height="1.35" fill="#f9e6b8"/>
<rect x="41.77" y="311.80" width="14.22" height="1.35" fill="#f9d59f"/>
<rect x="55.93" y="311.80" width="14.22" height="1.35" fill="#f5b381"/>
<rect x="70.10" y="311.80" width="14.22" height="1.35" fill="#f9e5b7"/>
<rect x="84.27" y="311.80" width="14.22" height="1.35" fill="#f0edcc"/>
<rect x="98.43" y="311.80" width="14.22" height="1.35" fill="#93b7d8"/>
<rect x="27.60" y="313.10" width="14.22" height="1.05" fill="#f8d09b"/>
<rect x="41.77" y="313.10" width="14.22" height="1.05" fill="#d8e5d5"/>
<rect x="55.93" y="313.10" width="14.22" height="1.05" fill="#f8d09b"/>
<rect x="70.10" y="313.10" width="14.22" height="1.05" fill="#f9efc6"/>
<rect x="84.27" y="313.10" width="14.22" height="1.05" fill="#f7c692"/>
<rect x="98.43" y="313.10" width="14.22" height="1.05" fill="#9cbfdc"/>
<rect x="27.60" y="314.10" width="14.22" height="2.25" fill="#f9e2b2"/>
<rect x="41.77" y="314.10" width="14.22" height="2.25" fill="#f7c692"/>
<rect x="55.93" y="314.10" width="14.22" height="2.25" fill="#f9dba7"/>
<rect x="70.10" y="314.10" width="14.22" height="2.25" fill="#e8eacf"/>
<rect x="84.27" y="314.10" width="14.22" height="2.25" fill="#ebebce"/>
<rect x="98.43" y="314.10" width="14.22" height="2.25" fill="#e6ead0"/>
<rect x="27.60" y="316.30" width="14.22" height="1.35" fill="#f9eabf"/>
<rect x="41.77" y="316.30" width="14.22" height="1.35" fill="#f9d7a2"/>
<rect x="55.93" y="316.30" width="14.22" height="1.35" fill="#f9e9bd"/>
<rect x="70.10" y="316.30" width="14.22" height="1.35" fill="#f9d39d"/>
<rect x="84.27" y="316.30" width="14.22" height="1.35" fill="#f7c692"/>
<rect x="98.43" y="316.30" width="14.22" height="1.35" fill="#7ba1ce"/>
<rect x="27.60" y="317.60" width="14.22" height="1.65" fill="#f9dba7"/>
<rect x="41.77" y="317.60" width="14.22" height="1.65" fill="#ed9a6d"/>
<rect x="55.93" y="317.60" width="14.22" height="1.65" fill="#f2aa79"/>
<rect x="70.10" y="317.60" width="14.22" height="1.65" fill="#a7c9e0"/>
<rect x="84.27" y="317.60" width="14.22" height="1.65" fill="#e98f63"/>
<rect x="98.43" y="317.60" width="14.22" height="1.65" fill="#7fa4cf"/>
<rect x="27.60" y="319.20" width="14.22" height="1.95" fill="#f8d19b"/>
<rect x="41.77" y="319.20" width="14.22" height="1.95" fill="#efa172"/>
<rect x="55.93" y="319.20" width="14.22" height="1.95" fill="#e7eacf"/>
<rect x="70.10" y="319.20" width="14.22" height="1.95" fill="#f9e7ba"/>
<rect x="84.27" y="319.20" width="14.22" height="1.95" fill="#f9e7ba"/>
<rect x="98.43" y="319.20" width="14.22" height="1.95" fill="#c4dada"/>
<rect x="27.60" y="321.10" width="14.22" height="1.35" fill="#f9edc3"/>
<rect x="41.77" y="321.10" width="14.22" height="1.35" fill="#f6bd8a"/>
<rect x="55.93" y="321.10" width="14.22" height="1.35" fill="#f9e8bb"/>
<rect x="70.10" y="321.10" width="14.22" height="1.35" fill="#f9e7bb"/>
<rect x="84.27" y="321.10" width="14.22" height="1.35" fill="#f7c793"/>
<rect x="98.43" y="321.10" width="14.22" height="1.35" fill="#648cc4"/>
<rect x="27.60" y="322.40" width="14.22" height="2.25" fill="#f8ca96"/>
<rect x="41.77" y="322.40" width="14.22" height="2.25" fill="#f8f0c8"/>
<rect x="55.93" y="322.40" width="14.22" height="2.25" fill="#f9eec4"/>
<rect x="70.10" y="322.40" width="14.22" height="2.25" fill="#f9dba8"/>
<rect x="84.27" y="322.40" width="14.22" height="2.25" fill="#caddd9"/>
<rect x="98.43" y="322.40" width="14.22" height="2.25" fill="#a2c4de"/>
<rect x="27.60" y="324.60" width="14.22" height="1.05" fill="#df724b"/>
<rect x="41.77" y="324.60" width="14.22" height="1.05" fill="#f4b180"/>
<rect x="55.93" y="324.60" width="14.22" height="1.05" fill="#f9d7a2"/>
<rect x="70.10" y="324.60" width="14.22" height="1.05" fill="#f7c28e"/>
<rect x="84.27" y="324.60" width="14.22" height="1.05" fill="#f9d9a5"/>
<rect x="98.43" y="324.60" width="14.22" height="1.05" fill="#caddd8"/>
<rect x="27.60" y="325.60" width="14.22" height="2.25" fill="#e88d62"/>
<rect x="41.77" y="325.60" width="14.22" height="2.25" fill="#f9dcaa"/>
<rect x="55.93" y="325.60" width="14.22" height="2.25" fill="#dae5d5"/>
<rect x="70.10" y="325.60" width="14.22" height="2.25" fill="#f9deac"/>
<rect x="84.27" y="325.60" width="14.22" height="2.25" fill="#f7c692"/>
<rect x="98.43" y="325.60" width="14.22" height="2.25" fill="#a7c8e0"/>
<rect x="27.60" y="327.80" width="14.22" height="1.65" fill="#f8ca95"/>
<rect x="41.77" y="327.80" width="14.22" height="1.65" fill="#f6ba87"/>
<rect x="55.93" y="327.80" width="14.22" height="1.65" fill="#f1edcb"/>
<rect x="70.10" y="327.80" width="14.22" height="1.65" fill="#d8e5d5"/>
<rect x="84.27" y="327.80" width="14.22" height="1.65" fill="#edeccd"/>
<rect x="98.43" y="327.80" width="14.22" height="1.65" fill="#96bad9"/>
<rect x="27.60" y="329.40" width="14.22" height="2.25" fill="#efa273"/>
<rect x="41.77" y="329.40" width="14.22" height="2.25" fill="#f9dfad"/>
<rect x="55.93" y="329.40" width="14.22" height="2.25" fill="#f9dba8"/>
<rect x="70.10" y="329.40" width="14.22" height="2.25" fill="#f2edcb"/>
<rect x="84.27" y="329.40" width="14.22" height="2.25" fill="#f9d8a3"/>
<rect x="98.43" y="329.40" width="14.22" height="2.25" fill="#91b5d7"/>
<rect x="27.60" y="331.60" width="14.22" height="2.55" fill="#f6bf8c"/>
<rect x="41.77" y="331.60" width="14.22" height="2.55" fill="#e88b60"/>
<rect x="55.93" y="331.60" width="14.22" height="2.55" fill="#f9d9a5"/>
<rect x="70.10" y="331.60" width="14.22" height="2.55" fill="#f5b886"/>
<rect x="84.27" y="331.60" width="14.22" height="2.55" fill="#f7c591"/>
<rect x="98.43" y="331.60" width="14.22" height="2.55" fill="#6a92c7"/>
<rect x="27.60" y="334.10" width="14.22" height="1.35" fill="#f9e5b8"/>
<rect x="41.77" y="334.10" width="14.22" height="1.35" fill="#a7c9e0"/>
<rect x="55.93" y="334.10" width="14.22" height="1.35" fill="#e0e8d2"/>
<rect x="70.10" y="334.10" width="14.22" height="1.35" fill="#f7efc9"/>
<rect x="84.27" y="334.10" width="14.22" height="1.35" fill="#dfe7d3"/>
<rect x="98.43" y="334.10" width="14.22" height="1.35" fill="#b4d0dd"/>
<rect x="27.60" y="335.40" width="14.22" height="1.05" fill="#f8d09a"/>
<rect x="41.77" y="335.40" width="14.22" height="1.05" fill="#f8d09a"/>
<rect x="55.93" y="335.40" width="14.22" height="1.05" fill="#f9ddab"/>
<rect x="70.10" y="335.40" width="14.22" height="1.05" fill="#bdd6db"/>
<rect x="84.27" y="335.40" width="14.22" height="1.05" fill="#f8cc97"/>
<rect x="98.43" y="335.40" width="14.22" height="1.05" fill="#a7c8e0"/>
<rect x="27.60" y="336.40" width="14.22" height="2.25" fill="#f4b280"/>
<rect x="41.77" y="336.40" width="14.22" height="2.25" fill="#f9e4b6"/>
<rect x="55.93" y="336.40" width="14.22" height="2.25" fill="#f9e6b8"/>
<rect x="70.10" y="336.40" width="14.22" height="2.25" fill="#f9deac"/>
<rect x="84.27" y="336.40" width="14.22" height="2.25" fill="#f9ddaa"/>
<rect x="98.43" y="336.40" width="14.22" height="2.25" fill="#d2e2d7"/>
<rect x="27.60" y="338.60" width="14.22" height="2.25" fill="#f6bd8a"/>
<rect x="41.77" y="338.60" width="14.22" height="2.25" fill="#f9e3b3"/>
<rect x="55.93" y="338.60" width="14.22" height="2.25" fill="#f6c08d"/>
<rect x="70.10" y="338.60" width="14.22" height="2.25" fill="#d8e5d5"/>
<rect x="84.27" y="338.60" width="14.22" height="2.25" fill="#f5b784"/>
<rect x="98.43" y="338.60" width="14.22" height="2.25" fill="#a1c3de"/>
<rect x="27.60" y="340.80" width="14.22" height="2.55" fill="#e6885d"/>
<rect x="41.77" y="340.80" width="14.22" height="2.55" fill="#f9daa5"/>
<rect x="55.93" y="340.80" width="14.22" height="2.55" fill="#e78b60"/>
<rect x="70.10" y="340.80" width="14.22" height="2.55" fill="#aacbdf"/>
<rect x="84.27" y="340.80" width="14.22" height="2.55" fill="#f9e2b2"/>
<rect x="98.43" y="340.80" width="14.22" height="2.55" fill="#cddfd8"/>
<rect x="27.60" y="343.30" width="14.22" height="1.35" fill="#f6ba88"/>
<rect x="41.77" y="343.30" width="14.22" height="1.35" fill="#f0edcc"/>
<rect x="55.93" y="343.30" width="14.22" height="1.35" fill="#e8eacf"/>
<rect x="70.10" y="343.30" width="14.22" height="1.35" fill="#f9e4b6"/>
<rect x="84.27" y="343.30" width="14.22" height="1.35" fill="#f3eeca"/>
<rect x="98.43" y="343.30" width="14.22" height="1.35" fill="#c9dcd9"/>
<rect x="27.60" y="344.60" width="14.22" height="1.65" fill="#f9ecc2"/>
<rect x="41.77" y="344.60" width="14.22" height="1.65" fill="#f1a777"/>
<rect x="55.93" y="344.60" width="14.22" height="1.65" fill="#f9e0b0"/>
<rect x="70.10" y="344.60" width="14.22" height="1.65" fill="#f9e1b0"/>
<rect x="84.27" y="344.60" width="14.22" height="1.65" fill="#ed9c6e"/>
<rect x="98.43" y="344.60" width="14.22" height="1.65" fill="#bcd5db"/>
<rect x="27.60" y="346.20" width="14.22" height="1.05" fill="#f6be8b"/>
<rect x="41.77" y="346.20" width="14.22" height="1.05" fill="#f9eabf"/>
<rect x="55.93" y="346.20" width="14.22" height="1.05" fill="#f9e7bb"/>
<rect x="70.10" y="346.20" width="14.22" height="1.05" fill="#f6bb88"/>
<rect x="84.27" y="346.20" width="14.22" height="1.05" fill="#f9e2b3"/>
<rect x="98.43" y="346.20" width="14.22" height="1.05" fill="#93b7d8"/>
<rect x="27.60" y="347.20" width="14.22" height="2.25" fill="#ebebce"/>
<rect x="41.77" y="347.20" width="14.22" height="2.25" fill="#dce6d4"/>
<rect x="55.93" y="347.20" width="14.22" height="2.25" fill="#efa173"/>
<rect x="70.10" y="347.20" width="14.22" height="2.25" fill="#c6dad9"/>
<rect x="84.27" y="347.20" width="14.22" height="2.25" fill="#f8d29c"/>
<rect x="98.43" y="347.20" width="14.22" height="2.25" fill="#cedfd8"/>
<rect x="27.60" y="349.40" width="14.22" height="2.55" fill="#f9e3b4"/>
<rect x="41.77" y="349.40" width="14.22" height="2.55" fill="#f8d29c"/>
<rect x="55.93" y="349.40" width="14.22" height="2.55" fill="#f7c18e"/>
<rect x="70.10" y="349.40" width="14.22" height="2.55" fill="#e2e8d1"/>
<rect x="84.27" y="349.40" width="14.22" height="2.55" fill="#e47f56"/>
<rect x="98.43" y="349.40" width="14.22" height="2.55" fill="#f9e9be"/>
<rect x="27.60" y="351.90" width="14.22" height="1.05" fill="#efa374"/>
<rect x="41.77" y="351.90" width="14.22" height="1.05" fill="#f9ecc2"/>
<rect x="55.93" y="351.90" width="14.22" height="1.05" fill="#f6ba87"/>
<rect x="70.10" y="351.90" width="14.22" height="1.05" fill="#f9ddaa"/>
<rect x="84.27" y="351.90" width="14.22" height="1.05" fill="#f2ab7b"/>
<rect x="98.43" y="351.90" width="14.22" height="1.05" fill="#a0c3dd"/>
<rect x="27.60" y="352.90" width="14.22" height="2.25" fill="#f5b684"/>
<rect x="41.77" y="352.90" width="14.22" height="2.25" fill="#f9d7a2"/>
<rect x="55.93" y="352.90" width="14.22" height="2.25" fill="#dfe7d2"/>
<rect x="70.10" y="352.90" width="14.22" height="2.25" fill="#f7c591"/>
<rect x="84.27" y="352.90" width="14.22" height="2.25" fill="#eb9669"/>
<rect x="98.43" y="352.90" width="14.22" height="2.25" fill="#afcdde"/>
<rect x="27.60" y="355.10" width="14.22" height="1.05" fill="#f9e9bd"/>
<rect x="41.77" y="355.10" width="14.22" height="1.05" fill="#f9eec5"/>
<rect x="55.93" y="355.10" width="14.22" height="1.05" fill="#f9dfae"/>
<rect x="70.10" y="355.10" width="14.22" height="1.05" fill="#f7c894"/>
<rect x="84.27" y="355.10" width="14.22" height="1.05" fill="#f0a475"/>
<rect x="98.43" y="355.10" width="14.22" height="1.05" fill="#b8d3dc"/>
<rect x="27.60" y="356.10" width="14.22" height="2.25" fill="#f9eec5"/>
<rect x="41.77" y="356.10" width="14.22" height="2.25" fill="#e99165"/>
<rect x="55.93" y="356.10" width="14.22" height="2.25" fill="#f9e1b1"/>
<rect x="70.10" y="356.10" width="14.22" height="2.25" fill="#ecebcd"/>
<rect x="84.27" y="356.10" width="14.22" height="2.25" fill="#f9e6b9"/>
<rect x="98.43" y="356.10" width="14.22" height="2.25" fill="#b8d3dc"/>
<rect x="27.60" y="358.30" width="14.22" height="1.35" fill="#f5b482"/>
<rect x="41.77" y="358.30" width="14.22" height="1.35" fill="#f9d29d"/>
<rect x="55.93" y="358.30" width="14.22" height="1.35" fill="#f7c692"/>
<rect x="70.10" y="358.30" width="14.22" height="1.35" fill="#f3eeca"/>
<rect x="84.27" y="358.30" width="14.22" height="1.35" fill="#dfe7d2"/>
<rect x="98.43" y="358.30" width="14.22" height="1.35" fill="#b3d0dd"/>
<rect x="27.60" y="359.60" width="14.22" height="1.95" fill="#f6bf8c"/>
<rect x="41.77" y="359.60" width="14.22" height="1.95" fill="#eeeccc"/>
<rect x="55.93" y="359.60" width="14.22" height="1.95" fill="#f9d7a2"/>
<rect x="70.10" y="359.60" width="14.22" height="1.95" fill="#cbddd8"/>
<rect x="84.27" y="359.60" width="14.22" height="1.95" fill="#cbded8"/>
<rect x="98.43" y="359.60" width="14.22" height="1.95" fill="#b7d2dd"/>
<rect x="27.60" y="361.50" width="14.22" height="2.55" fill="#f9d29c"/>
<rect x="41.77" y="361.50" width="14.22" height="2.55" fill="#f6bf8c"/>
<rect x="55.93" y="361.50" width="14.22" height="2.55" fill="#e98e63"/>
<rect x="70.10" y="361.50" width="14.22" height="2.55" fill="#f9dba8"/>
<rect x="84.27" y="361.50" width="14.22" height="2.55" fill="#f9ebc1"/>
<rect x="98.43" y="361.50" width="14.22" height="2.55" fill="#b9d3dc"/>
<rect x="27.60" y="364.00" width="14.22" height="2.25" fill="#e88d62"/>
<rect x="41.77" y="364.00" width="14.22" height="2.25" fill="#d2e1d7"/>
<rect x="55.93" y="364.00" width="14.22" height="2.25" fill="#d8e5d5"/>
<rect x="70.10" y="364.00" width="14.22" height="2.25" fill="#b5d0dd"/>
<rect x="84.27" y="364.00" width="14.22" height="2.25" fill="#e8eacf"/>
<rect x="98.43" y="364.00" width="14.22" height="2.25" fill="#a2c4de"/>
<rect x="27.60" y="366.20" width="14.22" height="1.95" fill="#f8cd98"/>
<rect x="41.77" y="366.20" width="14.22" height="1.95" fill="#f6be8b"/>
<rect x="55.93" y="366.20" width="14.22" height="1.95" fill="#f5b583"/>
<rect x="70.10" y="366.20" width="14.22" height="1.95" fill="#f9d59f"/>
<rect x="84.27" y="366.20" width="14.22" height="1.95" fill="#e6e9d0"/>
<rect x="98.43" y="366.20" width="14.22" height="1.95" fill="#a1c4de"/>
<rect x="27.60" y="368.10" width="14.22" height="1.65" fill="#f9efc6"/>
<rect x="41.77" y="368.10" width="14.22" height="1.65" fill="#f9d8a3"/>
<rect x="55.93" y="368.10" width="14.22" height="1.65" fill="#b3cfdd"/>
<rect x="70.10" y="368.10" width="14.22" height="1.65" fill="#dee7d3"/>
<rect x="84.27" y="368.10" width="14.22" height="1.65" fill="#f2eecb"/>
<rect x="98.43" y="368.10" width="14.22" height="1.65" fill="#9ec1dd"/>
<rect x="27.60" y="369.70" width="14.22" height="1.95" fill="#f9d9a5"/>
<rect x="41.77" y="369.70" width="14.22" height="1.95" fill="#f9eabf"/>
<rect x="55.93" y="369.70" width="14.22" height="1.95" fill="#f9d8a3"/>
<rect x="70.10" y="369.70" width="14.22" height="1.95" fill="#c8dcd9"/>
<rect x="84.27" y="369.70" width="14.22" height="1.95" fill="#efeccc"/>
<rect x="98.43" y="369.70" width="14.22" height="1.95" fill="#648cc4"/>
<rect x="27.60" y="371.60" width="14.22" height="2.25" fill="#f9e3b4"/>
<rect x="41.77" y="371.60" width="14.22" height="2.25" fill="#f9efc7"/>
<rect x="55.93" y="371.60" width="14.22" height="2.25" fill="#e78a5f"/>
<rect x="70.10" y="371.60" width="14.22" height="2.25" fill="#f9d6a0"/>
<rect x="84.27" y="371.60" width="14.22" height="2.25" fill="#f7c793"/>
<rect x="98.43" y="371.60" width="14.22" height="2.25" fill="#7fa4cf"/>
<rect x="27.60" y="373.80" width="14.22" height="1.95" fill="#f9e4b6"/>
<rect x="41.77" y="373.80" width="14.22" height="1.95" fill="#f9e3b4"/>
<rect x="55.93" y="373.80" width="14.22" height="1.95" fill="#e98f64"/>
<rect x="70.10" y="373.80" width="14.22" height="1.95" fill="#f9dcaa"/>
<rect x="84.27" y="373.80" width="14.22" height="1.95" fill="#f9e5b7"/>
<rect x="98.43" y="373.80" width="14.22" height="1.95" fill="#9abddb"/>
<rect x="27.60" y="375.70" width="14.22" height="1.65" fill="#f9e6b8"/>
<rect x="41.77" y="375.70" width="14.22" height="1.65" fill="#f9e3b4"/>
<rect x="55.93" y="375.70" width="14.22" height="1.65" fill="#e0744d"/>
<rect x="70.10" y="375.70" width="14.22" height="1.65" fill="#ebebce"/>
<rect x="84.27" y="375.70" width="14.22" height="1.65" fill="#f7c490"/>
<rect x="98.43" y="375.70" width="14.22" height="1.65" fill="#97bad9"/>
<rect x="27.60" y="377.30" width="14.22" height="1.65" fill="#f9dca9"/>
<rect x="41.77" y="377.30" width="14.22" height="1.65" fill="#d8e5d5"/>
<rect x="55.93" y="377.30" width="14.22" height="1.65" fill="#f0a374"/>
<rect x="70.10" y="377.30" width="14.22" height="1.65" fill="#c1d8da"/>
<rect x="84.27" y="377.30" width="14.22" height="1.65" fill="#f9e1b1"/>
<rect x="98.43" y="377.30" width="14.22" height="1.65" fill="#b5d1dd"/>
<rect x="27.60" y="378.90" width="14.22" height="1.35" fill="#f9d6a0"/>
<rect x="41.77" y="378.90" width="14.22" height="1.35" fill="#f5b583"/>
<rect x="55.93" y="378.90" width="14.22" height="1.35" fill="#ebebce"/>
<rect x="70.10" y="378.90" width="14.22" height="1.35" fill="#f9d29c"/>
<rect x="84.27" y="378.90" width="14.22" height="1.35" fill="#efa172"/>
<rect x="98.43" y="378.90" width="14.22" height="1.35" fill="#a0c2dd"/>
<rect x="27.60" y="380.20" width="14.22" height="1.35" fill="#f9d29c"/>
<rect x="41.77" y="380.20" width="14.22" height="1.35" fill="#f8d29c"/>
<rect x="55.93" y="380.20" width="14.22" height="1.35" fill="#f9ebc0"/>
<rect x="70.10" y="380.20" width="14.22" height="1.35" fill="#dce6d4"/>
<rect x="84.27" y="380.20" width="14.22" height="1.35" fill="#f9e6b8"/>
<rect x="98.43" y="380.20" width="14.22" height="1.35" fill="#92b5d7"/>
<rect x="27.60" y="381.50" width="14.22" height="2.55" fill="#f9eabf"/>
<rect x="41.77" y="381.50" width="14.22" height="2.55" fill="#e3e8d1"/>
<rect x="55.93" y="381.50" width="14.22" height="2.55" fill="#f9e9bd"/>
<rect x="70.10" y="381.50" width="14.22" height="2.55" fill="#e1e8d1"/>
<rect x="84.27" y="381.50" width="14.22" height="2.55" fill="#f7efc9"/>
<rect x="98.43" y="381.50" width="14.22" height="2.55" fill="#a3c5df"/>
<rect x="27.60" y="384.00" width="14.22" height="1.35" fill="#f6be8b"/>
<rect x="41.77" y="384.00" width="14.22" height="1.35" fill="#f9ddab"/>
<rect x="55.93" y="384.00" width="14.22" height="1.35" fill="#f9d7a2"/>
<rect x="70.10" y="384.00" width="14.22" height="1.35" fill="#f9d49f"/>
<rect x="84.27" y="384.00" width="14.22" height="1.35" fill="#f9d7a1"/>
<rect x="98.43" y="384.00" width="14.22" height="1.35" fill="#8aafd4"/>
<rect x="27.60" y="385.30" width="14.22" height="1.05" fill="#e0e8d2"/>
<rect x="41.77" y="385.30" width="14.22" height="1.05" fill="#f8cf9a"/>
<rect x="55.93" y="385.30" width="14.22" height="1.05" fill="#f4b17f"/>
<rect x="70.10" y="385.30" width="14.22" height="1.05" fill="#efedcc"/>
<rect x="84.27" y="385.30" width="14.22" height="1.05" fill="#f9d59f"/>
<rect x="98.43" y="385.30" width="14.22" height="1.05" fill="#abcbdf"/>
<rect x="27.60" y="386.30" width="14.22" height="2.25" fill="#f9e8bc"/>
<rect x="41.77" y="386.30" width="14.22" height="2.25" fill="#f9d7a2"/>
<rect x="55.93" y="386.30" width="14.22" height="2.25" fill="#f6b986"/>
<rect x="70.10" y="386.30" width="14.22" height="2.25" fill="#f9e5b8"/>
<rect x="84.27" y="386.30" width="14.22" height="2.25" fill="#de6e48"/>
<rect x="98.43" y="386.30" width="14.22" height="2.25" fill="#9dbfdc"/>
<rect x="27.60" y="388.50" width="14.22" height="1.65" fill="#dfe7d2"/>
<rect x="41.77" y="388.50" width="14.22" height="1.65" fill="#f0a676"/>
<rect x="55.93" y="388.50" width="14.22" height="1.65" fill="#f9d39d"/>
<rect x="70.10" y="388.50" width="14.22" height="1.65" fill="#eaebce"/>
<rect x="84.27" y="388.50" width="14.22" height="1.65" fill="#ed9a6d"/>
<rect x="98.43" y="388.50" width="14.22" height="1.65" fill="#bcd5db"/>
<rect x="27.60" y="390.10" width="14.22" height="2.25" fill="#f9d29c"/>
<rect x="41.77" y="390.10" width="14.22" height="2.25" fill="#f6ba87"/>
<rect x="55.93" y="390.10" width="14.22" height="2.25" fill="#e4e9d0"/>
<rect x="70.10" y="390.10" width="14.22" height="2.25" fill="#ccded8"/>
<rect x="84.27" y="390.10" width="14.22" height="2.25" fill="#f9d39d"/>
<rect x="98.43" y="390.10" width="14.22" height="2.25" fill="#aecdde"/>
<rect x="27.60" y="392.30" width="14.22" height="1.95" fill="#f9e7ba"/>
<rect x="41.77" y="392.30" width="14.22" height="1.95" fill="#f6bc89"/>
<rect x="55.93" y="392.30" width="14.22" height="1.95" fill="#f7c691"/>
<rect x="70.10" y="392.30" width="14.22" height="1.95" fill="#d3e2d7"/>
<rect x="84.27" y="392.30" width="14.22" height="1.95" fill="#ed9d6f"/>
<rect x="98.43" y="392.30" width="14.22" height="1.95" fill="#e3e9d1"/>
<rect x="27.60" y="394.20" width="14.22" height="1.65" fill="#f9ddab"/>
<rect x="41.77" y="394.20" width="14.22" height="1.65" fill="#f0edcb"/>
<rect x="55.93" y="394.20" width="14.22" height="1.65" fill="#f9e2b3"/>
<rect x="70.10" y="394.20" width="14.22" height="1.65" fill="#c3d9da"/>
<rect x="84.27" y="394.20" width="14.22" height="1.65" fill="#f9dba8"/>
<rect x="98.43" y="394.20" width="14.22" height="1.65" fill="#aacadf"/>
<rect x="27.60" y="395.80" width="14.22" height="2.55" fill="#f9ddab"/>
<rect x="41.77" y="395.80" width="14.22" height="2.55" fill="#f6c08d"/>
<rect x="55.93" y="395.80" width="14.22" height="2.55" fill="#f9edc3"/>
<rect x="70.10" y="395.80" width="14.22" height="2.55" fill="#f9ddaa"/>
<rect x="84.27" y="395.80" width="14.22" height="2.55" fill="#f6b886"/>
<rect x="98.43" y="395.80" width="14.22" height="2.55" fill="#99bcda"/>
<rect x="27.60" y="398.30" width="14.22" height="1.95" fill="#e99165"/>
<rect x="41.77" y="398.30" width="14.22" height="1.95" fill="#f9d8a3"/>
<rect x="55.93" y="398.30" width="14.22" height="1.95" fill="#f9deac"/>
<rect x="70.10" y="398.30" width="14.22" height="1.95" fill="#f9ebc0"/>
<rect x="84.27" y="398.30" width="14.22" height="1.95" fill="#e5e9d0"/>
<rect x="98.43" y="398.30" width="14.22" height="1.95" fill="#caddd8"/>
<rect x="27.60" y="400.20" width="14.22" height="1.65" fill="#e58259"/>
<rect x="41.77" y="400.20" width="14.22" height="1.65" fill="#f5b583"/>
<rect x="55.93" y="400.20" width="14.22" height="1.65" fill="#f9dca9"/>
<rect x="70.10" y="400.20" width="14.22" height="1.65" fill="#9abddb"/>
<rect x="84.27" y="400.20" width="14.22" height="1.65" fill="#f8d29c"/>
<rect x="98.43" y="400.20" width="14.22" height="1.65" fill="#a8c9df"/>
<rect x="27.60" y="401.80" width="14.22" height="2.25" fill="#f9e6b9"/>
<rect x="41.77" y="401.80" width="14.22" height="2.25" fill="#e4e9d0"/>
<rect x="55.93" y="401.80" width="14.22" height="2.25" fill="#f0a575"/>
<rect x="70.10" y="401.80" width="14.22" height="2.25" fill="#f3af7d"/>
<rect x="84.27" y="401.80" width="14.22" height="2.25" fill="#f9e8bb"/>
<rect x="98.43" y="401.80" width="14.22" height="2.25" fill="#a9cadf"/>
<rect x="27.60" y="404.00" width="14.22" height="1.05" fill="#f7c692"/>
<rect x="41.77" y="404.00" width="14.22" height="1.05" fill="#cddfd8"/>
<rect x="55.93" y="404.00" width="14.22" height="1.05" fill="#f9e4b6"/>
<rect x="70.10" y="404.00" width="14.22" height="1.05" fill="#f6efc9"/>
<rect x="84.27" y="404.00" width="14.22" height="1.05" fill="#f8cc98"/>
<rect x="98.43" y="404.00" width="14.22" height="1.05" fill="#85aad2"/>
<rect x="27.60" y="405.00" width="14.22" height="1.05" fill="#f3ad7c"/>
<rect x="41.77" y="405.00" width="14.22" height="1.05" fill="#f2eecb"/>
<rect x="55.93" y="405.00" width="14.22" height="1.05" fill="#f9daa7"/>
<rect x="70.10" y="405.00" width="14.22" height="1.05" fill="#f9eabf"/>
<rect x="84.27" y="405.00" width="14.22" height="1.05" fill="#f2ac7b"/>
<rect x="98.43" y="405.00" width="14.22" height="1.05" fill="#94b8d9"/>
<rect x="27.60" y="406.00" width="14.22" height="2.25" fill="#f9ddaa"/>
<rect x="41.77" y="406.00" width="14.22" height="2.25" fill="#f9e6b8"/>
<rect x="55.93" y="406.00" width="14.22" height="2.25" fill="#f7c38f"/>
<rect x="70.10" y="406.00" width="14.22" height="2.25" fill="#ccded8"/>
<rect x="84.27" y="406.00" width="14.22" height="2.25" fill="#f1a777"/>
<rect x="98.43" y="406.00" width="14.22" height="2.25" fill="#8eb2d6"/>
<rect x="27.60" y="408.20" width="14.22" height="1.95" fill="#f6bd8a"/>
<rect x="41.77" y="408.20" width="14.22" height="1.95" fill="#f6bb88"/>
<rect x="55.93" y="408.20" width="14.22" height="1.95" fill="#f9e2b3"/>
<rect x="70.10" y="408.20" width="14.22" height="1.95" fill="#f9e0af"/>
<rect x="84.27" y="408.20" width="14.22" height="1.95" fill="#f9d39d"/>
<rect x="98.43" y="408.20" width="14.22" height="1.95" fill="#799fcd"/>
<rect x="27.60" y="410.10" width="14.22" height="1.35" fill="#f9d8a3"/>
<rect x="41.77" y="410.10" width="14.22" height="1.35" fill="#f9daa6"/>
<rect x="55.93" y="410.10" width="14.22" height="1.35" fill="#b2cfde"/>
<rect x="70.10" y="410.10" width="14.22" height="1.35" fill="#f0edcc"/>
<rect x="84.27" y="410.10" width="14.22" height="1.35" fill="#ea9366"/>
<rect x="98.43" y="410.10" width="14.22" height="1.35" fill="#98bcda"/>
<rect x="27.60" y="411.40" width="14.22" height="1.65" fill="#ec9a6c"/>
<rect x="41.77" y="411.40" width="14.22" height="1.65" fill="#f9d6a0"/>
<rect x="55.93" y="411.40" width="14.22" height="1.65" fill="#f9e5b7"/>
<rect x="70.10" y="411.40" width="14.22" height="1.65" fill="#b4d0dd"/>
<rect x="84.27" y="411.40" width="14.22" height="1.65" fill="#f9daa6"/>
<rect x="98.43" y="411.40" width="14.22" height="1.65" fill="#85aad2"/>
<rect x="27.60" y="413.00" width="14.22" height="1.35" fill="#f6bf8c"/>
<rect x="41.77" y="413.00" width="14.22" height="1.35" fill="#dbe6d4"/>
<rect x="55.93" y="413.00" width="14.22" height="1.35" fill="#d7e4d6"/>
<rect x="70.10" y="413.00" width="14.22" height="1.35" fill="#e0e7d2"/>
<rect x="84.27" y="413.00" width="14.22" height="1.35" fill="#f0a575"/>
<rect x="98.43" y="413.00" width="14.22" height="1.35" fill="#9cbfdc"/>
<rect x="27.60" y="414.30" width="14.22" height="1.45" fill="#f8d19b"/>
<rect x="41.77" y="414.30" width="14.22" height="1.45" fill="#f8ca95"/>
<rect x="55.93" y="414.30" width="14.22" height="1.45" fill="#f9ecc1"/>
<rect x="70.10" y="414.30" width="14.22" height="1.45" fill="#cedfd8"/>
<rect x="84.27" y="414.30" width="14.22" height="1.45" fill="#de6e48"/>
<rect x="98.43" y="414.30" width="14.22" height="1.45" fill="#85aad2"/>
<rect x="27.60" y="267.00" width="85.00" height="1.80" fill="#6b5b52" fill-opacity="0.78"/>
<rect x="27.60" y="272.60" width="85.00" height="1.80" fill="#6b5b52" fill-opacity="0.78"/>
<rect x="27.60" y="289.30" width="85.00" height="1.80" fill="#6b5b52" fill-opacity="0.78"/>
<rect x="27.60" y="298.60" width="85.00" height="1.80" fill="#6b5b52" fill-opacity="0.78"/>
<rect x="27.60" y="310.20" width="85.00" height="1.80" fill="#6b5b52" fill-opacity="0.78"/>
<rect x="27.60" y="321.60" width="85.00" height="1.80" fill="#6b5b52" fill-opacity="0.78"/>
<rect x="27.60" y="332.80" width="85.00" height="1.80" fill="#6b5b52" fill-opacity="0.78"/>
<rect x="27.60" y="342.10" width="85.00" height="1.80" fill="#6b5b52" fill-opacity="0.78"/>
<rect x="27.60" y="355.70" width="85.00" height="1.80" fill="#6b5b52" fill-opacity="0.78"/>
<rect x="27.60" y="369.00" width="85.00" height="1.80" fill="#6b5b52" fill-opacity="0.78"/>
<rect x="27.60" y="378.70" width="85.00" height="1.80" fill="#6b5b52" fill-opacity="0.78"/>
<rect x="27.60" y="408.40" width="85.00" height="1.80" fill="#6b5b52" fill-opacity="0.78"/>
<rect x="27.60" y="256.80" width="85.00" height="158.90" fill="none" stroke="#5a5a5a" stroke-width="0.8"/>
<line x1="33.10" y1="415.70" x2="33.10" y2="417.90" stroke="#333" stroke-width="0.7"/>
<line x1="47.50" y1="415.70" x2="47.50" y2="417.90" stroke="#333" stroke-width="0.7"/>
<line x1="61.90" y1="415.70" x2="61.90" y2="417.90" stroke="#333" stroke-width="0.7"/>
<line x1="76.30" y1="415.70" x2="76.30" y2="417.90" stroke="#333" stroke-width="0.7"/>
<line x1="90.70" y1="415.70" x2="90.70" y2="417.90" stroke="#333" stroke-width="0.7"/>
<line x1="105.10" y1="415.70" x2="105.10" y2="417.90" stroke="#333" stroke-width="0.7"/>
<text x="36.30" y="423.40" font-size="5.5" fill="#444" text-anchor="end" transform="rotate(-45 36.30 423.40)" stroke="#444" stroke-width="0.16">t(8;21)</text>
<text x="50.70" y="423.40" font-size="5.5" fill="#444" text-anchor="end" transform="rotate(-45 50.70 423.40)" stroke="#444" stroke-width="0.16">inv(16)</text>
<text x="65.10" y="423.40" font-size="5.5" fill="#444" text-anchor="end" transform="rotate(-45 65.10 423.40)" stroke="#444" stroke-width="0.16">CEBPA−dm</text>
<text x="79.50" y="423.40" font-size="5.5" fill="#444" text-anchor="end" transform="rotate(-45 79.50 423.40)" stroke="#444" stroke-width="0.16">FLT3−ITD</text>
<text x="93.90" y="423.40" font-size="5.5" fill="#444" text-anchor="end" transform="rotate(-45 93.90 423.40)" stroke="#444" stroke-width="0.16">MLLr</text>
<text x="108.30" y="423.40" font-size="5.5" fill="#444" text-anchor="end" transform="rotate(-45 108.30 423.40)" stroke="#444" stroke-width="0.16">HD</text>
<text x="13.90" y="336.00" font-size="7.2" fill="#333" text-anchor="middle" textLength="81.60" lengthAdjust="spacingAndGlyphs" transform="rotate(-90 13.90 336.00)" stroke="#333" stroke-width="0.16">Innate immunity related genes</text>
<text x="22.30" y="336.30" font-size="7.2" fill="#333" text-anchor="middle" textLength="32.00" lengthAdjust="spacingAndGlyphs" transform="rotate(-90 22.30 336.30)" stroke="#333" stroke-width="0.16">(334 genes)</text>
<line x1="115.80" y1="257.50" x2="115.80" y2="267.20" stroke="#555" stroke-width="0.6"/>
<line x1="115.80" y1="265.70" x2="121.00" y2="259.50" stroke="#555" stroke-width="0.6"/>
<text x="122.00" y="261.00" font-size="5.8" fill="#333" textLength="76.88" lengthAdjust="spacingAndGlyphs" stroke="#333" stroke-width="0.16">FCGR dependent phagocytosis</text>
<line x1="115.80" y1="268.60" x2="115.80" y2="272.80" stroke="#555" stroke-width="0.6"/>
<line x1="115.80" y1="270.70" x2="121.00" y2="270.70" stroke="#555" stroke-width="0.6"/>
<text x="122.00" y="270.70" font-size="5.8" fill="#333" textLength="57.27" lengthAdjust="spacingAndGlyphs" stroke="#333" stroke-width="0.16">DDX58/IFIH1-mediated</text>
<text x="122.00" y="277.10" font-size="5.8" fill="#333" textLength="80.56" lengthAdjust="spacingAndGlyphs" stroke="#333" stroke-width="0.16">induction of interferon-alpha/beta</text>
<line x1="115.80" y1="274.20" x2="115.80" y2="289.50" stroke="#555" stroke-width="0.6"/>
<line x1="115.80" y1="285.80" x2="121.00" y2="285.80" stroke="#555" stroke-width="0.6"/>
<text x="122.00" y="287.80" font-size="5.8" fill="#333" textLength="53.90" lengthAdjust="spacingAndGlyphs" stroke="#333" stroke-width="0.16">Antimicrobial peptides</text>
<line x1="115.80" y1="290.90" x2="115.80" y2="298.80" stroke="#555" stroke-width="0.6"/>
<line x1="115.80" y1="292.40" x2="121.00" y2="295.40" stroke="#555" stroke-width="0.6"/>
<text x="122.00" y="297.90" font-size="5.8" fill="#333" textLength="63.09" lengthAdjust="spacingAndGlyphs" stroke="#333" stroke-width="0.16">ROS and RNS production</text>
<text x="122.00" y="303.90" font-size="5.8" fill="#333" textLength="34.00" lengthAdjust="spacingAndGlyphs" stroke="#333" stroke-width="0.16">in phagocytes</text>
<line x1="115.80" y1="300.20" x2="115.80" y2="310.40" stroke="#555" stroke-width="0.6"/>
<line x1="115.80" y1="301.70" x2="121.00" y2="310.40" stroke="#555" stroke-width="0.6"/>
<text x="122.00" y="312.90" font-size="5.8" fill="#333" textLength="39.81" lengthAdjust="spacingAndGlyphs" stroke="#333" stroke-width="0.16">FCERI signaling</text>
<line x1="115.80" y1="311.80" x2="115.80" y2="321.80" stroke="#555" stroke-width="0.6"/>
<line x1="115.80" y1="313.30" x2="121.00" y2="323.10" stroke="#555" stroke-width="0.6"/>
<text x="122.00" y="325.60" font-size="5.8" fill="#333" textLength="47.17" lengthAdjust="spacingAndGlyphs" stroke="#333" stroke-width="0.16">DAP12 interactions</text>
<line x1="115.80" y1="323.20" x2="115.80" y2="333.00" stroke="#555" stroke-width="0.6"/>
<line x1="115.80" y1="324.70" x2="121.00" y2="335.50" stroke="#555" stroke-width="0.6"/>
<text x="122.00" y="338.00" font-size="5.8" fill="#333" textLength="53.29" lengthAdjust="spacingAndGlyphs" stroke="#333" stroke-width="0.16">Complement cascade</text>
<line x1="115.80" y1="334.40" x2="115.80" y2="342.30" stroke="#555" stroke-width="0.6"/>
<line x1="115.80" y1="335.90" x2="121.00" y2="346.80" stroke="#555" stroke-width="0.6"/>
<text x="122.00" y="349.30" font-size="5.8" fill="#333" textLength="55.12" lengthAdjust="spacingAndGlyphs" stroke="#333" stroke-width="0.16">C-type lectin receptors</text>
<line x1="115.80" y1="343.70" x2="115.80" y2="355.90" stroke="#555" stroke-width="0.6"/>
<line x1="115.80" y1="345.20" x2="121.00" y2="359.50" stroke="#555" stroke-width="0.6"/>
<text x="122.00" y="362.00" font-size="5.8" fill="#333" textLength="67.99" lengthAdjust="spacingAndGlyphs" stroke="#333" stroke-width="0.16">Toll like Receptor Cascades</text>
<line x1="115.80" y1="357.30" x2="115.80" y2="369.20" stroke="#555" stroke-width="0.6"/>
<line x1="115.80" y1="358.80" x2="121.00" y2="371.50" stroke="#555" stroke-width="0.6"/>
<text x="122.00" y="374.00" font-size="5.8" fill="#333" textLength="91.87" lengthAdjust="spacingAndGlyphs" stroke="#333" stroke-width="0.16">Cytokine Signaling in Immune system</text>
<line x1="115.80" y1="370.60" x2="115.80" y2="378.90" stroke="#555" stroke-width="0.6"/>
<line x1="115.80" y1="372.10" x2="121.00" y2="383.50" stroke="#555" stroke-width="0.6"/>
<text x="122.00" y="386.00" font-size="5.8" fill="#333" textLength="73.82" lengthAdjust="spacingAndGlyphs" stroke="#333" stroke-width="0.16">Cytosolic sensors of pathogen</text>
<text x="122.00" y="392.20" font-size="5.8" fill="#333" textLength="39.51" lengthAdjust="spacingAndGlyphs" stroke="#333" stroke-width="0.16">associated DNA</text>
<line x1="115.80" y1="380.30" x2="115.80" y2="408.60" stroke="#555" stroke-width="0.6"/>
<line x1="115.80" y1="401.00" x2="121.00" y2="401.00" stroke="#555" stroke-width="0.6"/>
<text x="122.00" y="403.00" font-size="5.8" fill="#333" textLength="60.04" lengthAdjust="spacingAndGlyphs" stroke="#333" stroke-width="0.16">Neutrophil degranulation</text>
<line x1="115.80" y1="410.00" x2="115.80" y2="415.00" stroke="#555" stroke-width="0.6"/>
<line x1="115.80" y1="414.50" x2="121.00" y2="414.50" stroke="#555" stroke-width="0.6"/>
<text x="122.00" y="416.50" font-size="5.8" fill="#333" textLength="56.36" lengthAdjust="spacingAndGlyphs" stroke="#333" stroke-width="0.16">NLR signaling pathway</text>
<text x="181.20" y="16.60" font-size="11.2" fill="#111" font-weight="bold">C</text>
<text x="254.10" y="25.90" font-size="6.9" fill="#3a3a3a" text-anchor="middle" textLength="69.80" lengthAdjust="spacingAndGlyphs" stroke="#3a3a3a" stroke-width="0.05">Correlation between</text>
<text x="254.40" y="34.90" font-size="6.9" fill="#3a3a3a" text-anchor="middle" textLength="68.20" lengthAdjust="spacingAndGlyphs" stroke="#3a3a3a" stroke-width="0.05">innate immunity and</text>
<text x="254.40" y="44.30" font-size="6.9" fill="#3a3a3a" text-anchor="middle" textLength="32.40" lengthAdjust="spacingAndGlyphs" stroke="#3a3a3a" stroke-width="0.05">clone size</text>
<line x1="209.50" y1="49.30" x2="209.50" y2="116.50" stroke="#222" stroke-width="1.1"/>
<line x1="209.00" y1="116.00" x2="298.00" y2="116.00" stroke="#222" stroke-width="1.1"/>
<line x1="207.00" y1="63.40" x2="209.50" y2="63.40" stroke="#222" stroke-width="0.9"/>
<text x="204.30" y="65.40" font-size="5.5" fill="#555" text-anchor="end" textLength="11.20" lengthAdjust="spacingAndGlyphs" stroke="#555" stroke-width="0.16">0.48</text>
<line x1="207.00" y1="80.00" x2="209.50" y2="80.00" stroke="#222" stroke-width="0.9"/>
<text x="204.30" y="82.00" font-size="5.5" fill="#555" text-anchor="end" textLength="11.20" lengthAdjust="spacingAndGlyphs" stroke="#555" stroke-width="0.16">0.45</text>
<line x1="207.00" y1="96.70" x2="209.50" y2="96.70" stroke="#222" stroke-width="0.9"/>
<text x="204.30" y="98.70" font-size="5.5" fill="#555" text-anchor="end" textLength="11.20" lengthAdjust="spacingAndGlyphs" stroke="#555" stroke-width="0.16">0.42</text>
<line x1="207.00" y1="113.50" x2="209.50" y2="113.50" stroke="#222" stroke-width="0.9"/>
<text x="204.30" y="115.50" font-size="5.5" fill="#555" text-anchor="end" textLength="11.20" lengthAdjust="spacingAndGlyphs" stroke="#555" stroke-width="0.16">0.39</text>
<line x1="221.00" y1="116.00" x2="221.00" y2="118.40" stroke="#222" stroke-width="0.9"/>
<text x="221.00" y="127.80" font-size="5.6" fill="#555" text-anchor="middle" stroke="#555" stroke-width="0.16">1.5</text>
<line x1="249.60" y1="116.00" x2="249.60" y2="118.40" stroke="#222" stroke-width="0.9"/>
<text x="249.60" y="127.80" font-size="5.6" fill="#555" text-anchor="middle" stroke="#555" stroke-width="0.16">2.0</text>
<line x1="278.40" y1="116.00" x2="278.40" y2="118.40" stroke="#222" stroke-width="0.9"/>
<text x="278.40" y="127.80" font-size="5.6" fill="#555" text-anchor="middle" stroke="#555" stroke-width="0.16">2.5</text>
<text x="189.20" y="82.00" font-size="7.6" fill="#333" text-anchor="middle" textLength="28.70" lengthAdjust="spacingAndGlyphs" transform="rotate(-90 189.20 82.00)" stroke="#333" stroke-width="0.16">Gene score</text>
<text x="231.9" y="138.0" font-size="7.3" fill="#444" stroke="#444" stroke-width="0.12" textLength="43.9" lengthAdjust="spacingAndGlyphs">Log<tspan font-size="4.2" dy="1.5">10</tspan><tspan dy="-1.5">(clone size)</tspan></text>
<path d="M218.00,96.33 L219.91,95.49 L221.82,94.65 L223.74,93.81 L225.65,92.96 L227.56,92.11 L229.47,91.25 L231.39,90.38 L233.30,89.51 L235.21,88.62 L237.12,87.71 L239.04,86.79 L240.95,85.84 L242.86,84.86 L244.78,83.84 L246.69,82.77 L248.60,81.64 L250.51,80.45 L252.43,79.20 L254.34,77.89 L256.25,76.52 L258.16,75.12 L260.07,73.67 L261.99,72.20 L263.90,70.70 L265.81,69.19 L267.73,67.67 L269.64,66.13 L271.55,64.59 L273.46,63.04 L275.38,61.48 L277.29,59.92 L279.20,58.35 L281.11,56.78 L283.02,55.21 L284.94,53.64 L286.85,52.06 L288.76,50.48 L290.68,48.90 L292.59,47.32 L294.50,45.74 L294.50,64.61 L292.59,65.43 L290.68,66.26 L288.76,67.09 L286.85,67.91 L284.94,68.75 L283.02,69.58 L281.11,70.41 L279.20,71.25 L277.29,72.09 L275.38,72.94 L273.46,73.79 L271.55,74.64 L269.64,75.51 L267.73,76.38 L265.81,77.26 L263.90,78.16 L261.99,79.07 L260.07,80.00 L258.16,80.97 L256.25,81.96 L254.34,83.01 L252.43,84.10 L250.51,85.26 L248.60,86.48 L246.69,87.76 L244.78,89.09 L242.86,90.48 L240.95,91.91 L239.04,93.36 L237.12,94.85 L235.21,96.35 L233.30,97.87 L231.39,99.40 L229.47,100.94 L227.56,102.49 L225.65,104.04 L223.74,105.60 L221.82,107.16 L219.91,108.73 L218.00,110.30 Z" fill="#948d89" fill-opacity="0.97" />
<line x1="218.00" y1="103.31" x2="294.50" y2="55.17" stroke="#2a1c1c" stroke-width="0.85"/>
<circle cx="218.50" cy="102.80" r="0.8" fill="#111"/>
<circle cx="223.50" cy="96.00" r="0.8" fill="#111"/>
<circle cx="223.90" cy="110.90" r="0.8" fill="#111"/>
<circle cx="227.50" cy="85.30" r="0.8" fill="#111"/>
<circle cx="235.50" cy="99.30" r="0.8" fill="#111"/>
<circle cx="238.50" cy="88.70" r="0.8" fill="#111"/>
<circle cx="245.30" cy="96.70" r="0.8" fill="#111"/>
<circle cx="248.30" cy="78.50" r="0.8" fill="#111"/>
<circle cx="248.30" cy="86.90" r="0.8" fill="#111"/>
<circle cx="254.50" cy="74.30" r="0.8" fill="#111"/>
<circle cx="260.40" cy="77.00" r="0.8" fill="#111"/>
<circle cx="265.60" cy="59.30" r="0.8" fill="#111"/>
<circle cx="268.40" cy="66.40" r="0.8" fill="#111"/>
<circle cx="268.70" cy="75.90" r="0.8" fill="#111"/>
<circle cx="276.20" cy="71.80" r="0.8" fill="#111"/>
<circle cx="292.00" cy="67.30" r="0.8" fill="#111"/>
<text x="212.0" y="53.7" font-size="5.4" fill="#333" stroke="#333" stroke-width="0.15" textLength="52.8" lengthAdjust="spacingAndGlyphs">R = 0.83, <tspan font-style="italic">P</tspan> = 2.1e−07</text>
<text x="238.60" y="112.40" font-size="5.4" fill="#333" textLength="46.60" lengthAdjust="spacingAndGlyphs" stroke="#333" stroke-width="0.16">(diagnostic pAML2)</text>
<text x="314.60" y="24.10" font-size="11.2" fill="#111" font-weight="bold">D</text>
<text x="377.40" y="20.60" font-size="6.9" fill="#3a3a3a" text-anchor="middle" textLength="80.20" lengthAdjust="spacingAndGlyphs" stroke="#3a3a3a" stroke-width="0.05">Innate immunity related</text>
<text x="377.50" y="29.90" font-size="6.9" fill="#3a3a3a" text-anchor="middle" textLength="73.80" lengthAdjust="spacingAndGlyphs" stroke="#3a3a3a" stroke-width="0.05">genes (non-relapse vs</text>
<text x="377.20" y="39.20" font-size="6.9" fill="#3a3a3a" text-anchor="middle" textLength="49.00" lengthAdjust="spacingAndGlyphs" stroke="#3a3a3a" stroke-width="0.05">relapse group)</text>
<line x1="342.40" y1="44.40" x2="342.40" y2="116.90" stroke="#222" stroke-width="1.1"/>
<line x1="341.90" y1="116.40" x2="412.60" y2="116.40" stroke="#222" stroke-width="1.1"/>
<line x1="339.90" y1="56.20" x2="342.40" y2="56.20" stroke="#222" stroke-width="0.9"/>
<text x="336.20" y="58.20" font-size="5.5" fill="#555" text-anchor="end" textLength="10.60" lengthAdjust="spacingAndGlyphs" stroke="#555" stroke-width="0.16">0.44</text>
<line x1="339.90" y1="72.70" x2="342.40" y2="72.70" stroke="#222" stroke-width="0.9"/>
<text x="336.20" y="74.70" font-size="5.5" fill="#555" text-anchor="end" textLength="10.60" lengthAdjust="spacingAndGlyphs" stroke="#555" stroke-width="0.16">0.42</text>
<line x1="339.90" y1="89.30" x2="342.40" y2="89.30" stroke="#222" stroke-width="0.9"/>
<text x="336.20" y="91.30" font-size="5.5" fill="#555" text-anchor="end" textLength="10.60" lengthAdjust="spacingAndGlyphs" stroke="#555" stroke-width="0.16">0.40</text>
<line x1="339.90" y1="106.00" x2="342.40" y2="106.00" stroke="#222" stroke-width="0.9"/>
<text x="336.20" y="108.00" font-size="5.5" fill="#555" text-anchor="end" textLength="10.60" lengthAdjust="spacingAndGlyphs" stroke="#555" stroke-width="0.16">0.38</text>
<line x1="352.40" y1="116.40" x2="352.40" y2="118.80" stroke="#222" stroke-width="0.9"/>
<line x1="397.40" y1="116.40" x2="397.40" y2="118.80" stroke="#222" stroke-width="0.9"/>
<text x="352.30" y="127.60" font-size="6.3" fill="#444" text-anchor="middle" textLength="30.80" lengthAdjust="spacingAndGlyphs" stroke="#444" stroke-width="0.16">Non−Relapse</text>
<text x="397.30" y="127.60" font-size="6.3" fill="#444" text-anchor="middle" textLength="18.50" lengthAdjust="spacingAndGlyphs" stroke="#444" stroke-width="0.16">Relapse</text>
<text x="321.20" y="80.10" font-size="7.6" fill="#333" text-anchor="middle" textLength="28.20" lengthAdjust="spacingAndGlyphs" transform="rotate(-90 321.20 80.10)" stroke="#333" stroke-width="0.16">Gene score</text>
<line x1="353.30" y1="87.40" x2="396.60" y2="66.50" stroke="#e8a23c" stroke-width="0.9"/>
<line x1="353.30" y1="84.20" x2="353.30" y2="90.60" stroke="#e8a23c" stroke-width="0.6"/>
<line x1="352.50" y1="84.20" x2="354.10" y2="84.20" stroke="#e8a23c" stroke-width="0.5"/>
<line x1="352.50" y1="90.60" x2="354.10" y2="90.60" stroke="#e8a23c" stroke-width="0.5"/>
<circle cx="353.30" cy="87.40" r="1.15" fill="#e8a23c"/>
<line x1="396.60" y1="63.30" x2="396.60" y2="69.70" stroke="#e8a23c" stroke-width="0.6"/>
<line x1="395.80" y1="63.30" x2="397.40" y2="63.30" stroke="#e8a23c" stroke-width="0.5"/>
<line x1="395.80" y1="69.70" x2="397.40" y2="69.70" stroke="#e8a23c" stroke-width="0.5"/>
<circle cx="396.60" cy="66.50" r="1.15" fill="#e8a23c"/>
<line x1="353.30" y1="107.40" x2="396.60" y2="78.50" stroke="#d39aa4" stroke-width="0.9"/>
<line x1="353.30" y1="104.20" x2="353.30" y2="110.60" stroke="#d39aa4" stroke-width="0.6"/>
<line x1="352.50" y1="104.20" x2="354.10" y2="104.20" stroke="#d39aa4" stroke-width="0.5"/>
<line x1="352.50" y1="110.60" x2="354.10" y2="110.60" stroke="#d39aa4" stroke-width="0.5"/>
<circle cx="353.30" cy="107.40" r="1.15" fill="#d39aa4"/>
<line x1="396.60" y1="75.30" x2="396.60" y2="81.70" stroke="#d39aa4" stroke-width="0.6"/>
<line x1="395.80" y1="75.30" x2="397.40" y2="75.30" stroke="#d39aa4" stroke-width="0.5"/>
<line x1="395.80" y1="81.70" x2="397.40" y2="81.70" stroke="#d39aa4" stroke-width="0.5"/>
<circle cx="396.60" cy="78.50" r="1.15" fill="#d39aa4"/>
<line x1="353.30" y1="91.20" x2="396.60" y2="84.90" stroke="#c6364a" stroke-width="0.9"/>
<line x1="353.30" y1="88.00" x2="353.30" y2="94.40" stroke="#c6364a" stroke-width="0.6"/>
<line x1="352.50" y1="88.00" x2="354.10" y2="88.00" stroke="#c6364a" stroke-width="0.5"/>
<line x1="352.50" y1="94.40" x2="354.10" y2="94.40" stroke="#c6364a" stroke-width="0.5"/>
<circle cx="353.30" cy="91.20" r="1.15" fill="#c6364a"/>
<line x1="396.60" y1="81.70" x2="396.60" y2="88.10" stroke="#c6364a" stroke-width="0.6"/>
<line x1="395.80" y1="81.70" x2="397.40" y2="81.70" stroke="#c6364a" stroke-width="0.5"/>
<line x1="395.80" y1="88.10" x2="397.40" y2="88.10" stroke="#c6364a" stroke-width="0.5"/>
<circle cx="396.60" cy="84.90" r="1.15" fill="#c6364a"/>
<line x1="353.30" y1="72.00" x2="396.60" y2="58.50" stroke="#2c3f8e" stroke-width="0.9"/>
<line x1="353.30" y1="68.80" x2="353.30" y2="75.20" stroke="#2c3f8e" stroke-width="0.6"/>
<line x1="352.50" y1="68.80" x2="354.10" y2="68.80" stroke="#2c3f8e" stroke-width="0.5"/>
<line x1="352.50" y1="75.20" x2="354.10" y2="75.20" stroke="#2c3f8e" stroke-width="0.5"/>
<circle cx="353.30" cy="72.00" r="1.15" fill="#2c3f8e"/>
<line x1="396.60" y1="55.30" x2="396.60" y2="61.70" stroke="#2c3f8e" stroke-width="0.6"/>
<line x1="395.80" y1="55.30" x2="397.40" y2="55.30" stroke="#2c3f8e" stroke-width="0.5"/>
<line x1="395.80" y1="61.70" x2="397.40" y2="61.70" stroke="#2c3f8e" stroke-width="0.5"/>
<circle cx="396.60" cy="58.50" r="1.15" fill="#2c3f8e"/>
<line x1="353.30" y1="84.60" x2="396.60" y2="54.20" stroke="#1f6a3a" stroke-width="0.9"/>
<line x1="353.30" y1="81.40" x2="353.30" y2="87.80" stroke="#1f6a3a" stroke-width="0.6"/>
<line x1="352.50" y1="81.40" x2="354.10" y2="81.40" stroke="#1f6a3a" stroke-width="0.5"/>
<line x1="352.50" y1="87.80" x2="354.10" y2="87.80" stroke="#1f6a3a" stroke-width="0.5"/>
<circle cx="353.30" cy="84.60" r="1.15" fill="#1f6a3a"/>
<line x1="396.60" y1="51.00" x2="396.60" y2="57.40" stroke="#1f6a3a" stroke-width="0.6"/>
<line x1="395.80" y1="51.00" x2="397.40" y2="51.00" stroke="#1f6a3a" stroke-width="0.5"/>
<line x1="395.80" y1="57.40" x2="397.40" y2="57.40" stroke="#1f6a3a" stroke-width="0.5"/>
<circle cx="396.60" cy="54.20" r="1.15" fill="#1f6a3a"/>
<line x1="353.30" y1="60.30" x2="396.60" y2="47.70" stroke="#f08a72" stroke-width="0.9"/>
<line x1="353.30" y1="57.10" x2="353.30" y2="63.50" stroke="#f08a72" stroke-width="0.6"/>
<line x1="352.50" y1="57.10" x2="354.10" y2="57.10" stroke="#f08a72" stroke-width="0.5"/>
<line x1="352.50" y1="63.50" x2="354.10" y2="63.50" stroke="#f08a72" stroke-width="0.5"/>
<circle cx="353.30" cy="60.30" r="1.15" fill="#f08a72"/>
<line x1="396.60" y1="44.50" x2="396.60" y2="50.90" stroke="#f08a72" stroke-width="0.6"/>
<line x1="395.80" y1="44.50" x2="397.40" y2="44.50" stroke="#f08a72" stroke-width="0.5"/>
<line x1="395.80" y1="50.90" x2="397.40" y2="50.90" stroke="#f08a72" stroke-width="0.5"/>
<circle cx="396.60" cy="47.70" r="1.15" fill="#f08a72"/>
<line x1="353.30" y1="103.80" x2="396.60" y2="89.20" stroke="#f4b8c6" stroke-width="0.9"/>
<line x1="353.30" y1="100.60" x2="353.30" y2="107.00" stroke="#f4b8c6" stroke-width="0.6"/>
<line x1="352.50" y1="100.60" x2="354.10" y2="100.60" stroke="#f4b8c6" stroke-width="0.5"/>
<line x1="352.50" y1="107.00" x2="354.10" y2="107.00" stroke="#f4b8c6" stroke-width="0.5"/>
<circle cx="353.30" cy="103.80" r="1.15" fill="#f4b8c6"/>
<line x1="396.60" y1="86.00" x2="396.60" y2="92.40" stroke="#f4b8c6" stroke-width="0.6"/>
<line x1="395.80" y1="86.00" x2="397.40" y2="86.00" stroke="#f4b8c6" stroke-width="0.5"/>
<line x1="395.80" y1="92.40" x2="397.40" y2="92.40" stroke="#f4b8c6" stroke-width="0.5"/>
<circle cx="396.60" cy="89.20" r="1.15" fill="#f4b8c6"/>
<line x1="353.30" y1="112.30" x2="396.60" y2="76.20" stroke="#3a0f1c" stroke-width="0.9"/>
<line x1="353.30" y1="109.10" x2="353.30" y2="115.50" stroke="#3a0f1c" stroke-width="0.6"/>
<line x1="352.50" y1="109.10" x2="354.10" y2="109.10" stroke="#3a0f1c" stroke-width="0.5"/>
<line x1="352.50" y1="115.50" x2="354.10" y2="115.50" stroke="#3a0f1c" stroke-width="0.5"/>
<circle cx="353.30" cy="112.30" r="1.15" fill="#3a0f1c"/>
<line x1="396.60" y1="73.00" x2="396.60" y2="79.40" stroke="#3a0f1c" stroke-width="0.6"/>
<line x1="395.80" y1="73.00" x2="397.40" y2="73.00" stroke="#3a0f1c" stroke-width="0.5"/>
<line x1="395.80" y1="79.40" x2="397.40" y2="79.40" stroke="#3a0f1c" stroke-width="0.5"/>
<circle cx="396.60" cy="76.20" r="1.15" fill="#3a0f1c"/>
<text x="375.40" y="85.20" font-size="6.2" fill="#b24a4a" text-anchor="middle" textLength="11.00" lengthAdjust="spacingAndGlyphs" stroke="#b24a4a" stroke-width="0.16">N.S.</text>
<text x="373.50" y="53.00" font-size="5.0" fill="#f08a72" text-anchor="middle" opacity="0.8">**</text>
<text x="375.50" y="65.00" font-size="5.0" fill="#2c3f8e" text-anchor="middle" opacity="0.8">**</text>
<text x="378.00" y="72.00" font-size="5.0" fill="#1f6a3a" text-anchor="middle" opacity="0.8">**</text>
<text x="372.50" y="77.00" font-size="5.0" fill="#e8a23c" text-anchor="middle" opacity="0.8">**</text>
<text x="370.00" y="93.00" font-size="5.0" fill="#c6364a" text-anchor="middle" opacity="0.8">**</text>
<text x="377.50" y="98.00" font-size="5.0" fill="#3a0f1c" text-anchor="middle" opacity="0.8">**</text>
<text x="419.00" y="47.30" font-size="6.0" fill="#333" textLength="21.90" lengthAdjust="spacingAndGlyphs" stroke="#333" stroke-width="0.16">Cell type</text>
<line x1="418.70" y1="53.50" x2="426.20" y2="53.50" stroke="#d09848" stroke-width="0.8"/>
<circle cx="422.50" cy="53.50" r="1.0" fill="#d09848"/>
<text x="429.00" y="55.60" font-size="6.0" fill="#444" textLength="35.86" lengthAdjust="spacingAndGlyphs" stroke="#444" stroke-width="0.16">HSC/MPP−like</text>
<line x1="418.70" y1="62.50" x2="426.20" y2="62.50" stroke="#c8a0a8" stroke-width="0.8"/>
<circle cx="422.50" cy="62.50" r="1.0" fill="#c8a0a8"/>
<text x="429.00" y="64.60" font-size="6.0" fill="#444" textLength="25.96" lengthAdjust="spacingAndGlyphs" stroke="#444" stroke-width="0.16">LMPP−like</text>
<line x1="418.70" y1="71.70" x2="426.20" y2="71.70" stroke="#8e2434" stroke-width="0.8"/>
<circle cx="422.50" cy="71.70" r="1.0" fill="#8e2434"/>
<text x="429.00" y="73.80" font-size="6.0" fill="#444" textLength="23.56" lengthAdjust="spacingAndGlyphs" stroke="#444" stroke-width="0.16">GMP−like</text>
<line x1="418.70" y1="80.30" x2="426.20" y2="80.30" stroke="#1f2a66" stroke-width="0.8"/>
<circle cx="422.50" cy="80.30" r="1.0" fill="#1f2a66"/>
<text x="429.00" y="82.40" font-size="6.0" fill="#444" textLength="21.76" lengthAdjust="spacingAndGlyphs" stroke="#444" stroke-width="0.16">NeP−like</text>
<line x1="418.70" y1="89.20" x2="426.20" y2="89.20" stroke="#1a472a" stroke-width="0.8"/>
<circle cx="422.50" cy="89.20" r="1.0" fill="#1a472a"/>
<text x="429.00" y="91.30" font-size="6.0" fill="#444" textLength="23.26" lengthAdjust="spacingAndGlyphs" stroke="#444" stroke-width="0.16">MDP−like</text>
<line x1="418.70" y1="98.20" x2="426.20" y2="98.20" stroke="#f08a72" stroke-width="0.8"/>
<circle cx="422.50" cy="98.20" r="1.0" fill="#f08a72"/>
<text x="429.00" y="100.30" font-size="6.0" fill="#444" textLength="34.67" lengthAdjust="spacingAndGlyphs" stroke="#444" stroke-width="0.16">Monocyte−like</text>
<line x1="418.70" y1="107.10" x2="426.20" y2="107.10" stroke="#f4b8c6" stroke-width="0.8"/>
<circle cx="422.50" cy="107.10" r="1.0" fill="#f4b8c6"/>
<text x="429.00" y="109.20" font-size="6.0" fill="#444" textLength="22.96" lengthAdjust="spacingAndGlyphs" stroke="#444" stroke-width="0.16">MEP−like</text>
<line x1="418.70" y1="116.10" x2="426.20" y2="116.10" stroke="#3a0f1c" stroke-width="0.8"/>
<circle cx="422.50" cy="116.10" r="1.0" fill="#3a0f1c"/>
<text x="429.00" y="118.20" font-size="6.0" fill="#444" textLength="22.96" lengthAdjust="spacingAndGlyphs" stroke="#444" stroke-width="0.16">EBM−like</text>
<text x="222.00" y="199.20" font-size="11.2" fill="#111" font-weight="bold">E</text>
<text x="304.50" y="211.40" font-size="6.9" fill="#3a3a3a" text-anchor="middle" textLength="118.50" lengthAdjust="spacingAndGlyphs" stroke="#3a3a3a" stroke-width="0.05">Innate immunity genes significantly</text>
<text x="304.50" y="220.70" font-size="6.9" fill="#3a3a3a" text-anchor="middle" textLength="144.30" lengthAdjust="spacingAndGlyphs" stroke="#3a3a3a" stroke-width="0.05">associated with prognosis (inScore, n = 31)</text>
<rect x="222.00" y="226.45" width="40.40" height="5.00" fill="#e6e6e6"/>
<rect x="266.40" y="226.45" width="19.30" height="5.00" fill="#e6e6e6"/>
<text x="242.50" y="231.40" font-size="7.0" fill="#3a3a3a" text-anchor="middle" font-style="italic" textLength="14.63" lengthAdjust="spacingAndGlyphs" stroke="#3a3a3a" stroke-width="0.05">CPB2</text>
<text x="276.00" y="231.95" font-size="6.0" fill="#555" text-anchor="middle" stroke="#555" stroke-width="0.05">**</text>
<text x="242.50" y="237.44" font-size="7.0" fill="#3a3a3a" text-anchor="middle" font-style="italic" textLength="18.36" lengthAdjust="spacingAndGlyphs" stroke="#3a3a3a" stroke-width="0.05">SFTPD</text>
<text x="276.00" y="237.99" font-size="6.0" fill="#555" text-anchor="middle" stroke="#555" stroke-width="0.05">**</text>
<rect x="222.00" y="238.53" width="40.40" height="5.00" fill="#e6e6e6"/>
<rect x="266.40" y="238.53" width="19.30" height="5.00" fill="#e6e6e6"/>
<text x="242.50" y="243.48" font-size="7.0" fill="#3a3a3a" text-anchor="middle" font-style="italic" textLength="22.41" lengthAdjust="spacingAndGlyphs" stroke="#3a3a3a" stroke-width="0.05">PSMD13</text>
<text x="276.00" y="244.03" font-size="6.0" fill="#555" text-anchor="middle" stroke="#555" stroke-width="0.05">*</text>
<text x="242.50" y="249.52" font-size="7.0" fill="#3a3a3a" text-anchor="middle" font-style="italic" textLength="18.36" lengthAdjust="spacingAndGlyphs" stroke="#3a3a3a" stroke-width="0.05">RAB9B</text>
<text x="276.00" y="250.07" font-size="6.0" fill="#555" text-anchor="middle" stroke="#555" stroke-width="0.05">*</text>
<rect x="222.00" y="250.61" width="40.40" height="5.00" fill="#e6e6e6"/>
<rect x="266.40" y="250.61" width="19.30" height="5.00" fill="#e6e6e6"/>
<text x="242.50" y="255.56" font-size="7.0" fill="#3a3a3a" text-anchor="middle" font-style="italic" textLength="11.51" lengthAdjust="spacingAndGlyphs" stroke="#3a3a3a" stroke-width="0.05">C8G</text>
<text x="276.00" y="256.11" font-size="6.0" fill="#555" text-anchor="middle" stroke="#555" stroke-width="0.05">**</text>
<text x="242.50" y="261.60" font-size="7.0" fill="#3a3a3a" text-anchor="middle" font-style="italic" textLength="18.36" lengthAdjust="spacingAndGlyphs" stroke="#3a3a3a" stroke-width="0.05">PRSS3</text>
<text x="276.00" y="262.15" font-size="6.0" fill="#555" text-anchor="middle" stroke="#555" stroke-width="0.05">***</text>
<rect x="222.00" y="262.69" width="40.40" height="5.00" fill="#e6e6e6"/>
<rect x="266.40" y="262.69" width="19.30" height="5.00" fill="#e6e6e6"/>
<text x="242.50" y="267.64" font-size="7.0" fill="#3a3a3a" text-anchor="middle" font-style="italic" textLength="14.63" lengthAdjust="spacingAndGlyphs" stroke="#3a3a3a" stroke-width="0.05">BRK1</text>
<text x="276.00" y="268.19" font-size="6.0" fill="#555" text-anchor="middle" stroke="#555" stroke-width="0.05">**</text>
<text x="242.50" y="273.68" font-size="7.0" fill="#3a3a3a" text-anchor="middle" font-style="italic" textLength="18.99" lengthAdjust="spacingAndGlyphs" stroke="#3a3a3a" stroke-width="0.05">PSMA7</text>
<text x="276.00" y="274.23" font-size="6.0" fill="#555" text-anchor="middle" stroke="#555" stroke-width="0.05">**</text>
<rect x="222.00" y="274.77" width="40.40" height="5.00" fill="#e6e6e6"/>
<rect x="266.40" y="274.77" width="19.30" height="5.00" fill="#e6e6e6"/>
<text x="242.50" y="279.72" font-size="7.0" fill="#3a3a3a" text-anchor="middle" font-style="italic" textLength="11.20" lengthAdjust="spacingAndGlyphs" stroke="#3a3a3a" stroke-width="0.05">C1R</text>
<text x="276.00" y="280.27" font-size="6.0" fill="#555" text-anchor="middle" stroke="#555" stroke-width="0.05">**</text>
<text x="242.50" y="285.76" font-size="7.0" fill="#3a3a3a" text-anchor="middle" font-style="italic" textLength="19.29" lengthAdjust="spacingAndGlyphs" stroke="#3a3a3a" stroke-width="0.05">SARM1</text>
<text x="276.00" y="286.31" font-size="6.0" fill="#555" text-anchor="middle" stroke="#555" stroke-width="0.05">***</text>
<rect x="222.00" y="286.85" width="40.40" height="5.00" fill="#e6e6e6"/>
<rect x="266.40" y="286.85" width="19.30" height="5.00" fill="#e6e6e6"/>
<text x="242.50" y="291.80" font-size="7.0" fill="#3a3a3a" text-anchor="middle" font-style="italic" textLength="18.98" lengthAdjust="spacingAndGlyphs" stroke="#3a3a3a" stroke-width="0.05">MUC13</text>
<text x="276.00" y="292.35" font-size="6.0" fill="#555" text-anchor="middle" stroke="#555" stroke-width="0.05">**</text>
<text x="242.50" y="297.84" font-size="7.0" fill="#3a3a3a" text-anchor="middle" font-style="italic" textLength="25.32" lengthAdjust="spacingAndGlyphs" stroke="#3a3a3a" stroke-width="0.05">PGLYRP2</text>
<text x="276.00" y="298.39" font-size="6.0" fill="#555" text-anchor="middle" stroke="#555" stroke-width="0.05">*</text>
<rect x="222.00" y="298.93" width="40.40" height="5.00" fill="#e6e6e6"/>
<rect x="266.40" y="298.93" width="19.30" height="5.00" fill="#e6e6e6"/>
<text x="242.50" y="303.88" font-size="7.0" fill="#3a3a3a" text-anchor="middle" font-style="italic" textLength="23.03" lengthAdjust="spacingAndGlyphs" stroke="#3a3a3a" stroke-width="0.05">SCAMP1</text>
<text x="276.00" y="304.43" font-size="6.0" fill="#555" text-anchor="middle" stroke="#555" stroke-width="0.05">*</text>
<text x="242.50" y="309.92" font-size="7.0" fill="#3a3a3a" text-anchor="middle" font-style="italic" textLength="18.99" lengthAdjust="spacingAndGlyphs" stroke="#3a3a3a" stroke-width="0.05">PSMA4</text>
<text x="276.00" y="310.47" font-size="6.0" fill="#555" text-anchor="middle" stroke="#555" stroke-width="0.05">**</text>
<rect x="222.00" y="311.01" width="40.40" height="5.00" fill="#e6e6e6"/>
<rect x="266.40" y="311.01" width="19.30" height="5.00" fill="#e6e6e6"/>
<text x="242.50" y="315.96" font-size="7.0" fill="#3a3a3a" text-anchor="middle" font-style="italic" textLength="19.29" lengthAdjust="spacingAndGlyphs" stroke="#3a3a3a" stroke-width="0.05">PSMD7</text>
<text x="276.00" y="316.51" font-size="6.0" fill="#555" text-anchor="middle" stroke="#555" stroke-width="0.05">*</text>
<text x="242.50" y="322.00" font-size="7.0" fill="#3a3a3a" text-anchor="middle" font-style="italic" textLength="22.71" lengthAdjust="spacingAndGlyphs" stroke="#3a3a3a" stroke-width="0.05">NDUFC2</text>
<text x="276.00" y="322.55" font-size="6.0" fill="#555" text-anchor="middle" stroke="#555" stroke-width="0.05">**</text>
<rect x="222.00" y="323.09" width="40.40" height="5.00" fill="#e6e6e6"/>
<rect x="266.40" y="323.09" width="19.30" height="5.00" fill="#e6e6e6"/>
<text x="242.50" y="328.04" font-size="7.0" fill="#3a3a3a" text-anchor="middle" font-style="italic" textLength="21.79" lengthAdjust="spacingAndGlyphs" stroke="#3a3a3a" stroke-width="0.05">POLR3F</text>
<text x="276.00" y="328.59" font-size="6.0" fill="#555" text-anchor="middle" stroke="#555" stroke-width="0.05">*</text>
<text x="242.50" y="334.08" font-size="7.0" fill="#3a3a3a" text-anchor="middle" font-style="italic" textLength="24.89" lengthAdjust="spacingAndGlyphs" stroke="#3a3a3a" stroke-width="0.05">COMMD9</text>
<text x="276.00" y="334.63" font-size="6.0" fill="#555" text-anchor="middle" stroke="#555" stroke-width="0.05">*</text>
<rect x="222.00" y="335.17" width="40.40" height="5.00" fill="#e6e6e6"/>
<rect x="266.40" y="335.17" width="19.30" height="5.00" fill="#e6e6e6"/>
<text x="242.50" y="340.12" font-size="7.0" fill="#3a3a3a" text-anchor="middle" font-style="italic" textLength="12.76" lengthAdjust="spacingAndGlyphs" stroke="#3a3a3a" stroke-width="0.05">PPIE</text>
<text x="276.00" y="340.67" font-size="6.0" fill="#555" text-anchor="middle" stroke="#555" stroke-width="0.05">*</text>
<text x="242.50" y="346.16" font-size="7.0" fill="#3a3a3a" text-anchor="middle" font-style="italic" textLength="22.10" lengthAdjust="spacingAndGlyphs" stroke="#3a3a3a" stroke-width="0.05">MAP2K6</text>
<text x="276.00" y="346.71" font-size="6.0" fill="#555" text-anchor="middle" stroke="#555" stroke-width="0.05">*</text>
<rect x="222.00" y="347.25" width="40.40" height="5.00" fill="#e6e6e6"/>
<rect x="266.40" y="347.25" width="19.30" height="5.00" fill="#e6e6e6"/>
<text x="242.50" y="352.20" font-size="7.0" fill="#3a3a3a" text-anchor="middle" font-style="italic" textLength="23.96" lengthAdjust="spacingAndGlyphs" stroke="#3a3a3a" stroke-width="0.05">PGRMC1</text>
<text x="276.00" y="352.75" font-size="6.0" fill="#555" text-anchor="middle" stroke="#555" stroke-width="0.05">*</text>
<text x="242.50" y="358.24" font-size="7.0" fill="#3a3a3a" text-anchor="middle" font-style="italic" textLength="15.87" lengthAdjust="spacingAndGlyphs" stroke="#3a3a3a" stroke-width="0.05">AGER</text>
<text x="276.00" y="358.79" font-size="6.0" fill="#555" text-anchor="middle" stroke="#555" stroke-width="0.05">*</text>
<rect x="222.00" y="359.33" width="40.40" height="5.00" fill="#e6e6e6"/>
<rect x="266.40" y="359.33" width="19.30" height="5.00" fill="#e6e6e6"/>
<text x="242.50" y="364.28" font-size="7.0" fill="#3a3a3a" text-anchor="middle" font-style="italic" textLength="16.19" lengthAdjust="spacingAndGlyphs" stroke="#3a3a3a" stroke-width="0.05">RIPK3</text>
<text x="276.00" y="364.83" font-size="6.0" fill="#555" text-anchor="middle" stroke="#555" stroke-width="0.05">**</text>
<text x="242.50" y="370.32" font-size="7.0" fill="#3a3a3a" text-anchor="middle" font-style="italic" textLength="19.93" lengthAdjust="spacingAndGlyphs" stroke="#3a3a3a" stroke-width="0.05">S100A1</text>
<text x="276.00" y="370.87" font-size="6.0" fill="#555" text-anchor="middle" stroke="#555" stroke-width="0.05">**</text>
<rect x="222.00" y="371.41" width="40.40" height="5.00" fill="#e6e6e6"/>
<rect x="266.40" y="371.41" width="19.30" height="5.00" fill="#e6e6e6"/>
<text x="242.50" y="376.36" font-size="7.0" fill="#3a3a3a" text-anchor="middle" font-style="italic" textLength="13.07" lengthAdjust="spacingAndGlyphs" stroke="#3a3a3a" stroke-width="0.05">AIM2</text>
<text x="276.00" y="376.91" font-size="6.0" fill="#555" text-anchor="middle" stroke="#555" stroke-width="0.05">*</text>
<text x="242.50" y="382.40" font-size="7.0" fill="#3a3a3a" text-anchor="middle" font-style="italic" textLength="17.74" lengthAdjust="spacingAndGlyphs" stroke="#3a3a3a" stroke-width="0.05">USP18</text>
<text x="276.00" y="382.95" font-size="6.0" fill="#555" text-anchor="middle" stroke="#555" stroke-width="0.05">*</text>
<rect x="222.00" y="383.49" width="40.40" height="5.00" fill="#e6e6e6"/>
<rect x="266.40" y="383.49" width="19.30" height="5.00" fill="#e6e6e6"/>
<text x="242.50" y="388.44" font-size="7.0" fill="#3a3a3a" text-anchor="middle" font-style="italic" textLength="14.63" lengthAdjust="spacingAndGlyphs" stroke="#3a3a3a" stroke-width="0.05">DPP7</text>
<text x="276.00" y="388.99" font-size="6.0" fill="#555" text-anchor="middle" stroke="#555" stroke-width="0.05">*</text>
<text x="242.50" y="394.48" font-size="7.0" fill="#3a3a3a" text-anchor="middle" font-style="italic" textLength="18.98" lengthAdjust="spacingAndGlyphs" stroke="#3a3a3a" stroke-width="0.05">CARD9</text>
<text x="276.00" y="395.03" font-size="6.0" fill="#555" text-anchor="middle" stroke="#555" stroke-width="0.05">*</text>
<rect x="222.00" y="395.57" width="40.40" height="5.00" fill="#e6e6e6"/>
<rect x="266.40" y="395.57" width="19.30" height="5.00" fill="#e6e6e6"/>
<text x="242.50" y="400.52" font-size="7.0" fill="#3a3a3a" text-anchor="middle" font-style="italic" textLength="15.24" lengthAdjust="spacingAndGlyphs" stroke="#3a3a3a" stroke-width="0.05">CTSH</text>
<text x="276.00" y="401.07" font-size="6.0" fill="#555" text-anchor="middle" stroke="#555" stroke-width="0.05">*</text>
<text x="242.50" y="406.56" font-size="7.0" fill="#3a3a3a" text-anchor="middle" font-style="italic" textLength="15.56" lengthAdjust="spacingAndGlyphs" stroke="#3a3a3a" stroke-width="0.05">CTSG</text>
<text x="276.00" y="407.11" font-size="6.0" fill="#555" text-anchor="middle" stroke="#555" stroke-width="0.05">**</text>
<rect x="222.00" y="407.65" width="40.40" height="5.00" fill="#e6e6e6"/>
<rect x="266.40" y="407.65" width="19.30" height="5.00" fill="#e6e6e6"/>
<text x="242.50" y="412.60" font-size="7.0" fill="#3a3a3a" text-anchor="middle" font-style="italic" textLength="15.25" lengthAdjust="spacingAndGlyphs" stroke="#3a3a3a" stroke-width="0.05">C1QA</text>
<text x="276.00" y="413.15" font-size="6.0" fill="#555" text-anchor="middle" stroke="#555" stroke-width="0.05">*</text>
<line x1="289.30" y1="225.00" x2="289.30" y2="412.50" stroke="#7e93b8" stroke-width="0.6" stroke-dasharray="0.7 0.9"/>
<line x1="296.30" y1="228.95" x2="385.80" y2="228.95" stroke="#5a6f96" stroke-width="0.7"/>
<line x1="296.30" y1="227.95" x2="296.30" y2="229.95" stroke="#5a6f96" stroke-width="0.6"/>
<line x1="385.80" y1="227.95" x2="385.80" y2="229.95" stroke="#5a6f96" stroke-width="0.6"/>
<circle cx="324.20" cy="228.95" r="1.55" fill="#34507e"/>
<line x1="293.30" y1="234.99" x2="321.70" y2="234.99" stroke="#5a6f96" stroke-width="0.7"/>
<line x1="293.30" y1="233.99" x2="293.30" y2="235.99" stroke="#5a6f96" stroke-width="0.6"/>
<line x1="321.70" y1="233.99" x2="321.70" y2="235.99" stroke="#5a6f96" stroke-width="0.6"/>
<circle cx="303.50" cy="234.99" r="1.55" fill="#34507e"/>
<line x1="291.70" y1="241.03" x2="321.70" y2="241.03" stroke="#5a6f96" stroke-width="0.7"/>
<line x1="291.70" y1="240.03" x2="291.70" y2="242.03" stroke="#5a6f96" stroke-width="0.6"/>
<line x1="321.70" y1="240.03" x2="321.70" y2="242.03" stroke="#5a6f96" stroke-width="0.6"/>
<circle cx="302.10" cy="241.03" r="1.55" fill="#34507e"/>
<line x1="290.20" y1="247.07" x2="318.50" y2="247.07" stroke="#5a6f96" stroke-width="0.7"/>
<line x1="290.20" y1="246.07" x2="290.20" y2="248.07" stroke="#5a6f96" stroke-width="0.6"/>
<line x1="318.50" y1="246.07" x2="318.50" y2="248.07" stroke="#5a6f96" stroke-width="0.6"/>
<circle cx="302.10" cy="247.07" r="1.55" fill="#34507e"/>
<line x1="291.70" y1="253.11" x2="316.40" y2="253.11" stroke="#5a6f96" stroke-width="0.7"/>
<line x1="291.70" y1="252.11" x2="291.70" y2="254.11" stroke="#5a6f96" stroke-width="0.6"/>
<line x1="316.40" y1="252.11" x2="316.40" y2="254.11" stroke="#5a6f96" stroke-width="0.6"/>
<circle cx="300.60" cy="253.11" r="1.55" fill="#34507e"/>
<line x1="293.30" y1="259.15" x2="306.30" y2="259.15" stroke="#5a6f96" stroke-width="0.7"/>
<line x1="293.30" y1="258.15" x2="293.30" y2="260.15" stroke="#5a6f96" stroke-width="0.6"/>
<line x1="306.30" y1="258.15" x2="306.30" y2="260.15" stroke="#5a6f96" stroke-width="0.6"/>
<circle cx="299.10" cy="259.15" r="1.55" fill="#34507e"/>
<line x1="291.70" y1="265.19" x2="309.50" y2="265.19" stroke="#5a6f96" stroke-width="0.7"/>
<line x1="291.70" y1="264.19" x2="291.70" y2="266.19" stroke="#5a6f96" stroke-width="0.6"/>
<line x1="309.50" y1="264.19" x2="309.50" y2="266.19" stroke="#5a6f96" stroke-width="0.6"/>
<circle cx="299.10" cy="265.19" r="1.55" fill="#34507e"/>
<line x1="290.20" y1="271.23" x2="313.80" y2="271.23" stroke="#5a6f96" stroke-width="0.7"/>
<line x1="290.20" y1="270.23" x2="290.20" y2="272.23" stroke="#5a6f96" stroke-width="0.6"/>
<line x1="313.80" y1="270.23" x2="313.80" y2="272.23" stroke="#5a6f96" stroke-width="0.6"/>
<circle cx="299.10" cy="271.23" r="1.55" fill="#34507e"/>
<line x1="291.50" y1="277.27" x2="305.20" y2="277.27" stroke="#5a6f96" stroke-width="0.7"/>
<line x1="291.50" y1="276.27" x2="291.50" y2="278.27" stroke="#5a6f96" stroke-width="0.6"/>
<line x1="305.20" y1="276.27" x2="305.20" y2="278.27" stroke="#5a6f96" stroke-width="0.6"/>
<circle cx="297.50" cy="277.27" r="1.55" fill="#34507e"/>
<line x1="291.50" y1="283.31" x2="303.30" y2="283.31" stroke="#5a6f96" stroke-width="0.7"/>
<line x1="291.50" y1="282.31" x2="291.50" y2="284.31" stroke="#5a6f96" stroke-width="0.6"/>
<line x1="303.30" y1="282.31" x2="303.30" y2="284.31" stroke="#5a6f96" stroke-width="0.6"/>
<circle cx="297.50" cy="283.31" r="1.55" fill="#34507e"/>
<line x1="291.50" y1="289.35" x2="306.90" y2="289.35" stroke="#5a6f96" stroke-width="0.7"/>
<line x1="291.50" y1="288.35" x2="291.50" y2="290.35" stroke="#5a6f96" stroke-width="0.6"/>
<line x1="306.90" y1="288.35" x2="306.90" y2="290.35" stroke="#5a6f96" stroke-width="0.6"/>
<circle cx="297.50" cy="289.35" r="1.55" fill="#34507e"/>
<line x1="290.30" y1="295.39" x2="308.10" y2="295.39" stroke="#5a6f96" stroke-width="0.7"/>
<line x1="290.30" y1="294.39" x2="290.30" y2="296.39" stroke="#5a6f96" stroke-width="0.6"/>
<line x1="308.10" y1="294.39" x2="308.10" y2="296.39" stroke="#5a6f96" stroke-width="0.6"/>
<circle cx="297.50" cy="295.39" r="1.55" fill="#34507e"/>
<line x1="288.70" y1="301.43" x2="305.20" y2="301.43" stroke="#5a6f96" stroke-width="0.7"/>
<line x1="288.70" y1="300.43" x2="288.70" y2="302.43" stroke="#5a6f96" stroke-width="0.6"/>
<line x1="305.20" y1="300.43" x2="305.20" y2="302.43" stroke="#5a6f96" stroke-width="0.6"/>
<circle cx="296.30" cy="301.43" r="1.55" fill="#34507e"/>
<line x1="290.30" y1="307.47" x2="302.50" y2="307.47" stroke="#5a6f96" stroke-width="0.7"/>
<line x1="290.30" y1="306.47" x2="290.30" y2="308.47" stroke="#5a6f96" stroke-width="0.6"/>
<line x1="302.50" y1="306.47" x2="302.50" y2="308.47" stroke="#5a6f96" stroke-width="0.6"/>
<circle cx="296.30" cy="307.47" r="1.55" fill="#34507e"/>
<line x1="290.30" y1="313.51" x2="306.60" y2="313.51" stroke="#5a6f96" stroke-width="0.7"/>
<line x1="290.30" y1="312.51" x2="290.30" y2="314.51" stroke="#5a6f96" stroke-width="0.6"/>
<line x1="306.60" y1="312.51" x2="306.60" y2="314.51" stroke="#5a6f96" stroke-width="0.6"/>
<circle cx="296.30" cy="313.51" r="1.55" fill="#34507e"/>
<line x1="289.80" y1="319.55" x2="300.40" y2="319.55" stroke="#5a6f96" stroke-width="0.7"/>
<line x1="289.80" y1="318.55" x2="289.80" y2="320.55" stroke="#5a6f96" stroke-width="0.6"/>
<line x1="300.40" y1="318.55" x2="300.40" y2="320.55" stroke="#5a6f96" stroke-width="0.6"/>
<circle cx="294.60" cy="319.55" r="1.55" fill="#34507e"/>
<line x1="289.20" y1="325.59" x2="303.60" y2="325.59" stroke="#5a6f96" stroke-width="0.7"/>
<line x1="289.20" y1="324.59" x2="289.20" y2="326.59" stroke="#5a6f96" stroke-width="0.6"/>
<line x1="303.60" y1="324.59" x2="303.60" y2="326.59" stroke="#5a6f96" stroke-width="0.6"/>
<circle cx="294.60" cy="325.59" r="1.55" fill="#34507e"/>
<line x1="289.20" y1="331.63" x2="302.60" y2="331.63" stroke="#5a6f96" stroke-width="0.7"/>
<line x1="289.20" y1="330.63" x2="289.20" y2="332.63" stroke="#5a6f96" stroke-width="0.6"/>
<line x1="302.60" y1="330.63" x2="302.60" y2="332.63" stroke="#5a6f96" stroke-width="0.6"/>
<circle cx="294.60" cy="331.63" r="1.55" fill="#34507e"/>
<line x1="289.20" y1="337.67" x2="302.60" y2="337.67" stroke="#5a6f96" stroke-width="0.7"/>
<line x1="289.20" y1="336.67" x2="289.20" y2="338.67" stroke="#5a6f96" stroke-width="0.6"/>
<line x1="302.60" y1="336.67" x2="302.60" y2="338.67" stroke="#5a6f96" stroke-width="0.6"/>
<circle cx="294.60" cy="337.67" r="1.55" fill="#34507e"/>
<line x1="290.00" y1="343.71" x2="302.60" y2="343.71" stroke="#5a6f96" stroke-width="0.7"/>
<line x1="290.00" y1="342.71" x2="290.00" y2="344.71" stroke="#5a6f96" stroke-width="0.6"/>
<line x1="302.60" y1="342.71" x2="302.60" y2="344.71" stroke="#5a6f96" stroke-width="0.6"/>
<circle cx="294.60" cy="343.71" r="1.55" fill="#34507e"/>
<line x1="289.20" y1="349.75" x2="299.40" y2="349.75" stroke="#5a6f96" stroke-width="0.7"/>
<line x1="289.20" y1="348.75" x2="289.20" y2="350.75" stroke="#5a6f96" stroke-width="0.6"/>
<line x1="299.40" y1="348.75" x2="299.40" y2="350.75" stroke="#5a6f96" stroke-width="0.6"/>
<circle cx="293.50" cy="349.75" r="1.55" fill="#34507e"/>
<line x1="289.20" y1="355.79" x2="297.50" y2="355.79" stroke="#5a6f96" stroke-width="0.7"/>
<line x1="289.20" y1="354.79" x2="289.20" y2="356.79" stroke="#5a6f96" stroke-width="0.6"/>
<line x1="297.50" y1="354.79" x2="297.50" y2="356.79" stroke="#5a6f96" stroke-width="0.6"/>
<circle cx="293.50" cy="355.79" r="1.55" fill="#34507e"/>
<line x1="289.20" y1="361.83" x2="297.60" y2="361.83" stroke="#5a6f96" stroke-width="0.7"/>
<line x1="289.20" y1="360.83" x2="289.20" y2="362.83" stroke="#5a6f96" stroke-width="0.6"/>
<line x1="297.60" y1="360.83" x2="297.60" y2="362.83" stroke="#5a6f96" stroke-width="0.6"/>
<circle cx="293.60" cy="361.83" r="1.55" fill="#34507e"/>
<line x1="289.20" y1="367.87" x2="296.60" y2="367.87" stroke="#5a6f96" stroke-width="0.7"/>
<line x1="289.20" y1="366.87" x2="289.20" y2="368.87" stroke="#5a6f96" stroke-width="0.6"/>
<line x1="296.60" y1="366.87" x2="296.60" y2="368.87" stroke="#5a6f96" stroke-width="0.6"/>
<circle cx="293.60" cy="367.87" r="1.55" fill="#34507e"/>
<line x1="289.20" y1="373.91" x2="297.60" y2="373.91" stroke="#5a6f96" stroke-width="0.7"/>
<line x1="289.20" y1="372.91" x2="289.20" y2="374.91" stroke="#5a6f96" stroke-width="0.6"/>
<line x1="297.60" y1="372.91" x2="297.60" y2="374.91" stroke="#5a6f96" stroke-width="0.6"/>
<circle cx="293.60" cy="373.91" r="1.55" fill="#34507e"/>
<line x1="289.20" y1="379.95" x2="295.00" y2="379.95" stroke="#5a6f96" stroke-width="0.7"/>
<line x1="289.20" y1="378.95" x2="289.20" y2="380.95" stroke="#5a6f96" stroke-width="0.6"/>
<line x1="295.00" y1="378.95" x2="295.00" y2="380.95" stroke="#5a6f96" stroke-width="0.6"/>
<circle cx="291.80" cy="379.95" r="1.55" fill="#34507e"/>
<line x1="289.20" y1="385.99" x2="296.00" y2="385.99" stroke="#5a6f96" stroke-width="0.7"/>
<line x1="289.20" y1="384.99" x2="289.20" y2="386.99" stroke="#5a6f96" stroke-width="0.6"/>
<line x1="296.00" y1="384.99" x2="296.00" y2="386.99" stroke="#5a6f96" stroke-width="0.6"/>
<circle cx="291.80" cy="385.99" r="1.55" fill="#34507e"/>
<line x1="289.20" y1="392.03" x2="296.00" y2="392.03" stroke="#5a6f96" stroke-width="0.7"/>
<line x1="289.20" y1="391.03" x2="289.20" y2="393.03" stroke="#5a6f96" stroke-width="0.6"/>
<line x1="296.00" y1="391.03" x2="296.00" y2="393.03" stroke="#5a6f96" stroke-width="0.6"/>
<circle cx="291.80" cy="392.03" r="1.55" fill="#34507e"/>
<line x1="289.20" y1="398.07" x2="290.60" y2="398.07" stroke="#5a6f96" stroke-width="0.7"/>
<line x1="289.20" y1="397.07" x2="289.20" y2="399.07" stroke="#5a6f96" stroke-width="0.6"/>
<line x1="290.60" y1="397.07" x2="290.60" y2="399.07" stroke="#5a6f96" stroke-width="0.6"/>
<circle cx="290.00" cy="398.07" r="1.55" fill="#34507e"/>
<line x1="289.20" y1="404.11" x2="290.60" y2="404.11" stroke="#5a6f96" stroke-width="0.7"/>
<line x1="289.20" y1="403.11" x2="289.20" y2="405.11" stroke="#5a6f96" stroke-width="0.6"/>
<line x1="290.60" y1="403.11" x2="290.60" y2="405.11" stroke="#5a6f96" stroke-width="0.6"/>
<circle cx="290.00" cy="404.11" r="1.55" fill="#34507e"/>
<line x1="289.20" y1="410.15" x2="290.60" y2="410.15" stroke="#5a6f96" stroke-width="0.7"/>
<line x1="289.20" y1="409.15" x2="289.20" y2="411.15" stroke="#5a6f96" stroke-width="0.6"/>
<line x1="290.60" y1="409.15" x2="290.60" y2="411.15" stroke="#5a6f96" stroke-width="0.6"/>
<circle cx="290.00" cy="410.15" r="1.55" fill="#34507e"/>
<line x1="289.30" y1="413.00" x2="384.00" y2="413.00" stroke="#333" stroke-width="1.1"/>
<path d="M387.2,413.0 L383.0,411.2 L383.0,414.8 Z" fill="#333" />
<line x1="289.30" y1="413.00" x2="289.30" y2="415.00" stroke="#333" stroke-width="0.9"/>
<text x="289.30" y="424.00" font-size="5.6" fill="#444" text-anchor="middle" stroke="#444" stroke-width="0.16">1</text>
<line x1="303.98" y1="413.00" x2="303.98" y2="415.00" stroke="#333" stroke-width="0.9"/>
<text x="303.98" y="424.00" font-size="5.6" fill="#444" text-anchor="middle" stroke="#444" stroke-width="0.16">2</text>
<line x1="318.66" y1="413.00" x2="318.66" y2="415.00" stroke="#333" stroke-width="0.9"/>
<text x="318.66" y="424.00" font-size="5.6" fill="#444" text-anchor="middle" stroke="#444" stroke-width="0.16">3</text>
<line x1="333.34" y1="413.00" x2="333.34" y2="415.00" stroke="#333" stroke-width="0.9"/>
<text x="333.34" y="424.00" font-size="5.6" fill="#444" text-anchor="middle" stroke="#444" stroke-width="0.16">4</text>
<line x1="348.02" y1="413.00" x2="348.02" y2="415.00" stroke="#333" stroke-width="0.9"/>
<text x="348.02" y="424.00" font-size="5.6" fill="#444" text-anchor="middle" stroke="#444" stroke-width="0.16">5</text>
<line x1="362.70" y1="413.00" x2="362.70" y2="415.00" stroke="#333" stroke-width="0.9"/>
<text x="362.70" y="424.00" font-size="5.6" fill="#444" text-anchor="middle" stroke="#444" stroke-width="0.16">6</text>
<line x1="377.38" y1="413.00" x2="377.38" y2="415.00" stroke="#333" stroke-width="0.9"/>
<text x="377.38" y="424.00" font-size="5.6" fill="#444" text-anchor="middle" stroke="#444" stroke-width="0.16">7</text>
<text x="337.60" y="434.80" font-size="7.4" fill="#444" text-anchor="middle" textLength="32.30" lengthAdjust="spacingAndGlyphs" stroke="#444" stroke-width="0.16">Hazard ratio</text>
<text x="242.10" y="424.20" font-size="5.8" fill="#444" text-anchor="middle" textLength="12.80" lengthAdjust="spacingAndGlyphs" stroke="#444" stroke-width="0.16">Gene</text>
<text x="266.90" y="424.20" font-size="5.8" fill="#444" font-style="italic" stroke="#444" stroke-width="0.16">P</text>
<text x="271.50" y="424.20" font-size="5.8" fill="#444" textLength="12.80" lengthAdjust="spacingAndGlyphs" stroke="#444" stroke-width="0.16">value</text>
<text x="396.40" y="198.90" font-size="11.2" fill="#111" font-weight="bold">F</text>
<text x="468.00" y="194.70" font-size="6.7" fill="#3a3a3a" text-anchor="middle" textLength="65.30" lengthAdjust="spacingAndGlyphs" stroke="#3a3a3a" stroke-width="0.05">Overall survival analysis</text>
<text x="467.90" y="202.00" font-size="6.7" fill="#3a3a3a" text-anchor="middle" textLength="75.50" lengthAdjust="spacingAndGlyphs" stroke="#3a3a3a" stroke-width="0.05">based on inScore (TARGET</text>
<text x="466.90" y="209.80" font-size="6.7" fill="#3a3a3a" text-anchor="middle" textLength="87.80" lengthAdjust="spacingAndGlyphs" stroke="#3a3a3a" stroke-width="0.05">pediatric AML RNA-seq cohort)</text>
<line x1="424.60" y1="214.30" x2="424.60" y2="273.50" stroke="#222" stroke-width="1.1"/>
<line x1="424.10" y1="273.00" x2="511.20" y2="273.00" stroke="#222" stroke-width="1.1"/>
<line x1="422.20" y1="216.10" x2="424.60" y2="216.10" stroke="#222" stroke-width="0.9"/>
<text x="418.00" y="218.10" font-size="5.5" fill="#555" text-anchor="end" textLength="10.50" lengthAdjust="spacingAndGlyphs" stroke="#555" stroke-width="0.16">1.00</text>
<line x1="422.20" y1="231.50" x2="424.60" y2="231.50" stroke="#222" stroke-width="0.9"/>
<text x="418.00" y="233.50" font-size="5.5" fill="#555" text-anchor="end" textLength="10.50" lengthAdjust="spacingAndGlyphs" stroke="#555" stroke-width="0.16">0.75</text>
<line x1="422.20" y1="247.00" x2="424.60" y2="247.00" stroke="#222" stroke-width="0.9"/>
<text x="418.00" y="249.00" font-size="5.5" fill="#555" text-anchor="end" textLength="10.50" lengthAdjust="spacingAndGlyphs" stroke="#555" stroke-width="0.16">0.50</text>
<line x1="422.20" y1="262.50" x2="424.60" y2="262.50" stroke="#222" stroke-width="0.9"/>
<text x="418.00" y="264.50" font-size="5.5" fill="#555" text-anchor="end" textLength="10.50" lengthAdjust="spacingAndGlyphs" stroke="#555" stroke-width="0.16">0.25</text>
<line x1="427.30" y1="273.00" x2="427.30" y2="275.30" stroke="#222" stroke-width="0.9"/>
<text x="427.30" y="283.20" font-size="5.5" fill="#555" text-anchor="middle" stroke="#555" stroke-width="0.16">0</text>
<line x1="447.30" y1="273.00" x2="447.30" y2="275.30" stroke="#222" stroke-width="0.9"/>
<text x="447.30" y="283.20" font-size="5.5" fill="#555" text-anchor="middle" stroke="#555" stroke-width="0.16">1000</text>
<line x1="467.30" y1="273.00" x2="467.30" y2="275.30" stroke="#222" stroke-width="0.9"/>
<text x="467.30" y="283.20" font-size="5.5" fill="#555" text-anchor="middle" stroke="#555" stroke-width="0.16">2000</text>
<line x1="487.30" y1="273.00" x2="487.30" y2="275.30" stroke="#222" stroke-width="0.9"/>
<text x="487.30" y="283.20" font-size="5.5" fill="#555" text-anchor="middle" stroke="#555" stroke-width="0.16">3000</text>
<line x1="507.30" y1="273.00" x2="507.30" y2="275.30" stroke="#222" stroke-width="0.9"/>
<text x="507.30" y="283.20" font-size="5.5" fill="#555" text-anchor="middle" stroke="#555" stroke-width="0.16">4000</text>
<text x="403.00" y="243.60" font-size="7.4" fill="#333" text-anchor="middle" textLength="51.20" lengthAdjust="spacingAndGlyphs" transform="rotate(-90 403.00 243.60)" stroke="#333" stroke-width="0.16">Survival probability</text>
<text x="468.10" y="294.60" font-size="6.8" fill="#444" text-anchor="middle" textLength="30.00" lengthAdjust="spacingAndGlyphs" stroke="#444" stroke-width="0.16">Time (days)</text>
<path d="M427.30,216.10 L428.50,216.80 L429.50,218.50 L430.50,221.00 L431.50,224.00 L432.50,228.00 L433.50,231.00 L435.00,233.50 L437.00,236.50 L439.00,238.50 L442.00,240.80 L446.00,242.80 L451.50,244.30 L455.00,245.30 L459.40,246.10 L507.20,246.10" fill="none" stroke="#cf3535" stroke-width="1.05" />
<path d="M427.30,216.10 L428.50,216.90 L430.00,219.50 L431.50,222.30 L434.00,224.10 L437.00,225.80 L440.00,227.50 L444.80,229.80 L450.00,230.90 L463.50,232.20 L481.60,232.20 L481.60,233.90 L488.40,233.90 L488.40,238.30 L497.80,238.30" fill="none" stroke="#3f86c6" stroke-width="1.05" />
<line x1="470.09" y1="245.30" x2="470.09" y2="246.90" stroke="#d23b3b" stroke-width="0.45"/>
<line x1="480.50" y1="245.30" x2="480.50" y2="246.90" stroke="#d23b3b" stroke-width="0.45"/>
<line x1="474.58" y1="245.30" x2="474.58" y2="246.90" stroke="#d23b3b" stroke-width="0.45"/>
<line x1="482.53" y1="245.30" x2="482.53" y2="246.90" stroke="#d23b3b" stroke-width="0.45"/>
<line x1="483.27" y1="245.30" x2="483.27" y2="246.90" stroke="#d23b3b" stroke-width="0.45"/>
<line x1="464.23" y1="245.30" x2="464.23" y2="246.90" stroke="#d23b3b" stroke-width="0.45"/>
<line x1="462.45" y1="245.30" x2="462.45" y2="246.90" stroke="#d23b3b" stroke-width="0.45"/>
<line x1="490.47" y1="245.30" x2="490.47" y2="246.90" stroke="#d23b3b" stroke-width="0.45"/>
<line x1="470.82" y1="245.30" x2="470.82" y2="246.90" stroke="#d23b3b" stroke-width="0.45"/>
<line x1="469.97" y1="245.30" x2="469.97" y2="246.90" stroke="#d23b3b" stroke-width="0.45"/>
<line x1="495.85" y1="245.30" x2="495.85" y2="246.90" stroke="#d23b3b" stroke-width="0.45"/>
<line x1="477.99" y1="245.30" x2="477.99" y2="246.90" stroke="#d23b3b" stroke-width="0.45"/>
<line x1="490.44" y1="245.30" x2="490.44" y2="246.90" stroke="#d23b3b" stroke-width="0.45"/>
<line x1="478.20" y1="245.30" x2="478.20" y2="246.90" stroke="#d23b3b" stroke-width="0.45"/>
<line x1="483.73" y1="245.30" x2="483.73" y2="246.90" stroke="#d23b3b" stroke-width="0.45"/>
<line x1="467.12" y1="245.30" x2="467.12" y2="246.90" stroke="#d23b3b" stroke-width="0.45"/>
<line x1="483.59" y1="245.30" x2="483.59" y2="246.90" stroke="#d23b3b" stroke-width="0.45"/>
<line x1="491.51" y1="245.30" x2="491.51" y2="246.90" stroke="#d23b3b" stroke-width="0.45"/>
<line x1="479.79" y1="245.30" x2="479.79" y2="246.90" stroke="#d23b3b" stroke-width="0.45"/>
<line x1="487.20" y1="245.30" x2="487.20" y2="246.90" stroke="#d23b3b" stroke-width="0.45"/>
<line x1="484.83" y1="245.30" x2="484.83" y2="246.90" stroke="#d23b3b" stroke-width="0.45"/>
<line x1="464.18" y1="245.30" x2="464.18" y2="246.90" stroke="#d23b3b" stroke-width="0.45"/>
<line x1="487.78" y1="245.30" x2="487.78" y2="246.90" stroke="#d23b3b" stroke-width="0.45"/>
<line x1="482.10" y1="245.30" x2="482.10" y2="246.90" stroke="#d23b3b" stroke-width="0.45"/>
<line x1="472.24" y1="245.30" x2="472.24" y2="246.90" stroke="#d23b3b" stroke-width="0.45"/>
<line x1="463.05" y1="245.30" x2="463.05" y2="246.90" stroke="#d23b3b" stroke-width="0.45"/>
<line x1="491.43" y1="245.30" x2="491.43" y2="246.90" stroke="#d23b3b" stroke-width="0.45"/>
<line x1="478.07" y1="245.30" x2="478.07" y2="246.90" stroke="#d23b3b" stroke-width="0.45"/>
<line x1="486.44" y1="245.30" x2="486.44" y2="246.90" stroke="#d23b3b" stroke-width="0.45"/>
<line x1="491.88" y1="245.30" x2="491.88" y2="246.90" stroke="#d23b3b" stroke-width="0.45"/>
<line x1="486.28" y1="245.30" x2="486.28" y2="246.90" stroke="#d23b3b" stroke-width="0.45"/>
<line x1="493.32" y1="245.30" x2="493.32" y2="246.90" stroke="#d23b3b" stroke-width="0.45"/>
<line x1="475.43" y1="245.30" x2="475.43" y2="246.90" stroke="#d23b3b" stroke-width="0.45"/>
<line x1="489.23" y1="245.30" x2="489.23" y2="246.90" stroke="#d23b3b" stroke-width="0.45"/>
<line x1="477.12" y1="245.30" x2="477.12" y2="246.90" stroke="#d23b3b" stroke-width="0.45"/>
<line x1="493.81" y1="245.30" x2="493.81" y2="246.90" stroke="#d23b3b" stroke-width="0.45"/>
<line x1="491.88" y1="245.30" x2="491.88" y2="246.90" stroke="#d23b3b" stroke-width="0.45"/>
<line x1="465.31" y1="245.30" x2="465.31" y2="246.90" stroke="#d23b3b" stroke-width="0.45"/>
<line x1="466.62" y1="245.30" x2="466.62" y2="246.90" stroke="#d23b3b" stroke-width="0.45"/>
<line x1="469.38" y1="245.30" x2="469.38" y2="246.90" stroke="#d23b3b" stroke-width="0.45"/>
<line x1="494.83" y1="245.30" x2="494.83" y2="246.90" stroke="#d23b3b" stroke-width="0.45"/>
<line x1="476.83" y1="245.30" x2="476.83" y2="246.90" stroke="#d23b3b" stroke-width="0.45"/>
<line x1="483.31" y1="245.30" x2="483.31" y2="246.90" stroke="#d23b3b" stroke-width="0.45"/>
<line x1="472.23" y1="245.30" x2="472.23" y2="246.90" stroke="#d23b3b" stroke-width="0.45"/>
<line x1="479.25" y1="245.30" x2="479.25" y2="246.90" stroke="#d23b3b" stroke-width="0.45"/>
<line x1="463.19" y1="231.40" x2="463.19" y2="233.00" stroke="#4a8fca" stroke-width="0.45"/>
<line x1="462.18" y1="231.40" x2="462.18" y2="233.00" stroke="#4a8fca" stroke-width="0.45"/>
<line x1="468.97" y1="231.40" x2="468.97" y2="233.00" stroke="#4a8fca" stroke-width="0.45"/>
<line x1="468.94" y1="231.40" x2="468.94" y2="233.00" stroke="#4a8fca" stroke-width="0.45"/>
<line x1="478.22" y1="231.40" x2="478.22" y2="233.00" stroke="#4a8fca" stroke-width="0.45"/>
<line x1="471.78" y1="231.40" x2="471.78" y2="233.00" stroke="#4a8fca" stroke-width="0.45"/>
<line x1="478.94" y1="231.40" x2="478.94" y2="233.00" stroke="#4a8fca" stroke-width="0.45"/>
<line x1="476.84" y1="231.40" x2="476.84" y2="233.00" stroke="#4a8fca" stroke-width="0.45"/>
<line x1="480.74" y1="231.40" x2="480.74" y2="233.00" stroke="#4a8fca" stroke-width="0.45"/>
<line x1="471.47" y1="231.40" x2="471.47" y2="233.00" stroke="#4a8fca" stroke-width="0.45"/>
<line x1="456.73" y1="231.40" x2="456.73" y2="233.00" stroke="#4a8fca" stroke-width="0.45"/>
<line x1="476.96" y1="231.40" x2="476.96" y2="233.00" stroke="#4a8fca" stroke-width="0.45"/>
<line x1="479.97" y1="231.40" x2="479.97" y2="233.00" stroke="#4a8fca" stroke-width="0.45"/>
<line x1="478.24" y1="231.40" x2="478.24" y2="233.00" stroke="#4a8fca" stroke-width="0.45"/>
<line x1="468.50" y1="231.40" x2="468.50" y2="233.00" stroke="#4a8fca" stroke-width="0.45"/>
<line x1="472.70" y1="231.40" x2="472.70" y2="233.00" stroke="#4a8fca" stroke-width="0.45"/>
<line x1="458.12" y1="231.40" x2="458.12" y2="233.00" stroke="#4a8fca" stroke-width="0.45"/>
<line x1="476.12" y1="231.40" x2="476.12" y2="233.00" stroke="#4a8fca" stroke-width="0.45"/>
<line x1="468.63" y1="231.40" x2="468.63" y2="233.00" stroke="#4a8fca" stroke-width="0.45"/>
<line x1="460.26" y1="231.40" x2="460.26" y2="233.00" stroke="#4a8fca" stroke-width="0.45"/>
<line x1="453.84" y1="231.40" x2="453.84" y2="233.00" stroke="#4a8fca" stroke-width="0.45"/>
<line x1="476.76" y1="231.40" x2="476.76" y2="233.00" stroke="#4a8fca" stroke-width="0.45"/>
<line x1="480.70" y1="231.40" x2="480.70" y2="233.00" stroke="#4a8fca" stroke-width="0.45"/>
<line x1="454.57" y1="231.40" x2="454.57" y2="233.00" stroke="#4a8fca" stroke-width="0.45"/>
<line x1="475.22" y1="231.40" x2="475.22" y2="233.00" stroke="#4a8fca" stroke-width="0.45"/>
<line x1="463.90" y1="231.40" x2="463.90" y2="233.00" stroke="#4a8fca" stroke-width="0.45"/>
<line x1="456.37" y1="231.40" x2="456.37" y2="233.00" stroke="#4a8fca" stroke-width="0.45"/>
<line x1="460.52" y1="231.40" x2="460.52" y2="233.00" stroke="#4a8fca" stroke-width="0.45"/>
<line x1="474.29" y1="231.40" x2="474.29" y2="233.00" stroke="#4a8fca" stroke-width="0.45"/>
<line x1="477.31" y1="231.40" x2="477.31" y2="233.00" stroke="#4a8fca" stroke-width="0.45"/>
<text x="487.70" y="255.70" font-size="5.6" fill="#333" font-style="italic" stroke="#333" stroke-width="0.16">P</text>
<text x="492.30" y="255.70" font-size="5.6" fill="#333" textLength="16.90" lengthAdjust="spacingAndGlyphs" stroke="#333" stroke-width="0.16">&lt; .0001</text>
<text x="423.10" y="304.40" font-size="5.9" fill="#333" textLength="43.40" lengthAdjust="spacingAndGlyphs" stroke="#333" stroke-width="0.16">Group by inScore</text>
<rect x="423.50" y="310.30" width="4.20" height="2.40" fill="#e07a6a"/>
<line x1="423.00" y1="311.50" x2="428.20" y2="311.50" stroke="#c0392b" stroke-width="0.6"/>
<text x="430.00" y="313.60" font-size="5.9" fill="#333" textLength="36.90" lengthAdjust="spacingAndGlyphs" stroke="#333" stroke-width="0.16">High (n = 225)</text>
<rect x="472.70" y="310.30" width="3.80" height="2.40" fill="#a8c8e8"/>
<line x1="472.20" y1="311.50" x2="477.00" y2="311.50" stroke="#7fb0dc" stroke-width="0.6"/>
<text x="479.60" y="313.60" font-size="5.9" fill="#333" textLength="33.50" lengthAdjust="spacingAndGlyphs" stroke="#333" stroke-width="0.16">Low (n = 224)</text>
<text x="399.00" y="353.00" font-size="11.2" fill="#111" font-weight="bold">G</text>
<text x="467.30" y="349.30" font-size="7.1" fill="#3a3a3a" text-anchor="middle" textLength="47.90" lengthAdjust="spacingAndGlyphs" stroke="#3a3a3a" stroke-width="0.05">Pediatric AML</text>
<text x="467.40" y="357.80" font-size="7.1" fill="#3a3a3a" text-anchor="middle" textLength="60.90" lengthAdjust="spacingAndGlyphs" stroke="#3a3a3a" stroke-width="0.05">microarray cohort</text>
<line x1="424.40" y1="367.00" x2="424.40" y2="413.20" stroke="#222" stroke-width="1.1"/>
<line x1="423.90" y1="412.70" x2="509.40" y2="412.70" stroke="#222" stroke-width="1.1"/>
<line x1="421.60" y1="381.60" x2="424.40" y2="381.60" stroke="#222" stroke-width="0.9"/>
<text x="418.00" y="383.70" font-size="6.0" fill="#555" text-anchor="end" textLength="7.30" lengthAdjust="spacingAndGlyphs" stroke="#555" stroke-width="0.16">3.0</text>
<line x1="421.60" y1="390.60" x2="424.40" y2="390.60" stroke="#222" stroke-width="0.9"/>
<text x="418.00" y="392.70" font-size="6.0" fill="#555" text-anchor="end" textLength="7.30" lengthAdjust="spacingAndGlyphs" stroke="#555" stroke-width="0.16">2.5</text>
<line x1="421.60" y1="399.40" x2="424.40" y2="399.40" stroke="#222" stroke-width="0.9"/>
<text x="418.00" y="401.50" font-size="6.0" fill="#555" text-anchor="end" textLength="7.30" lengthAdjust="spacingAndGlyphs" stroke="#555" stroke-width="0.16">2.0</text>
<line x1="421.60" y1="408.60" x2="424.40" y2="408.60" stroke="#222" stroke-width="0.9"/>
<text x="418.00" y="410.70" font-size="6.0" fill="#555" text-anchor="end" textLength="7.30" lengthAdjust="spacingAndGlyphs" stroke="#555" stroke-width="0.16">1.5</text>
<text x="405.80" y="390.00" font-size="7.6" fill="#333" text-anchor="middle" textLength="19.70" lengthAdjust="spacingAndGlyphs" transform="rotate(-90 405.80 390.00)" stroke="#333" stroke-width="0.16">inScore</text>
<path d="M443.70,381.00 Q442.90,385.00 442.10,388.00 Q436.80,393.50 436.80,396.50 Q436.80,400.50 442.50,406.40 L443.30,410.40 L444.10,410.40 L444.90,406.40 Q450.60,400.50 450.60,396.50 Q450.60,393.50 445.30,388.00 Q444.50,385.00 443.70,381.00 Z" fill="#dcb8b0" stroke="#2b2b2b" stroke-width="0.6" />
<line x1="438.00" y1="394.00" x2="449.40" y2="394.00" stroke="#3a2020" stroke-width="0.45" stroke-opacity="0.8"/>
<line x1="438.00" y1="396.50" x2="449.40" y2="396.50" stroke="#3a2020" stroke-width="0.45" stroke-opacity="0.8"/>
<line x1="438.00" y1="399.00" x2="449.40" y2="399.00" stroke="#3a2020" stroke-width="0.45" stroke-opacity="0.8"/>
<line x1="443.70" y1="412.70" x2="443.70" y2="415.00" stroke="#222" stroke-width="0.9"/>
<path d="M466.20,380.10 Q465.40,384.10 464.60,387.10 Q461.20,391.00 461.20,394.00 Q461.20,398.00 465.00,403.00 L465.80,407.00 L466.60,407.00 L467.40,403.00 Q471.20,398.00 471.20,394.00 Q471.20,391.00 467.80,387.10 Q467.00,384.10 466.20,380.10 Z" fill="#b85652" stroke="#2b2b2b" stroke-width="0.6" />
<line x1="462.40" y1="391.50" x2="470.00" y2="391.50" stroke="#3a2020" stroke-width="0.45" stroke-opacity="0.8"/>
<line x1="462.40" y1="394.00" x2="470.00" y2="394.00" stroke="#3a2020" stroke-width="0.45" stroke-opacity="0.8"/>
<line x1="462.40" y1="396.50" x2="470.00" y2="396.50" stroke="#3a2020" stroke-width="0.45" stroke-opacity="0.8"/>
<line x1="466.20" y1="412.70" x2="466.20" y2="415.00" stroke="#222" stroke-width="0.9"/>
<path d="M490.00,378.40 Q489.20,382.40 488.40,385.40 Q485.00,388.70 485.00,391.70 Q485.00,395.70 488.80,403.80 L489.60,407.80 L490.40,407.80 L491.20,403.80 Q495.00,395.70 495.00,391.70 Q495.00,388.70 491.60,385.40 Q490.80,382.40 490.00,378.40 Z" fill="#a22c2e" stroke="#2b2b2b" stroke-width="0.6" />
<line x1="486.20" y1="389.20" x2="493.80" y2="389.20" stroke="#3a2020" stroke-width="0.45" stroke-opacity="0.8"/>
<line x1="486.20" y1="391.70" x2="493.80" y2="391.70" stroke="#3a2020" stroke-width="0.45" stroke-opacity="0.8"/>
<line x1="486.20" y1="394.20" x2="493.80" y2="394.20" stroke="#3a2020" stroke-width="0.45" stroke-opacity="0.8"/>
<line x1="490.00" y1="412.70" x2="490.00" y2="415.00" stroke="#222" stroke-width="0.9"/>
<line x1="441.20" y1="366.80" x2="490.50" y2="366.80" stroke="#555" stroke-width="0.7"/>
<line x1="441.20" y1="366.80" x2="441.20" y2="368.00" stroke="#555" stroke-width="0.7"/>
<line x1="490.50" y1="366.80" x2="490.50" y2="368.00" stroke="#555" stroke-width="0.7"/>
<text x="467.10" y="367.20" font-size="6.2" fill="#444" text-anchor="middle" stroke="#444" stroke-width="0.1">***</text>
<line x1="441.20" y1="374.90" x2="466.20" y2="374.90" stroke="#555" stroke-width="0.7"/>
<line x1="441.20" y1="374.90" x2="441.20" y2="376.10" stroke="#555" stroke-width="0.7"/>
<line x1="466.20" y1="374.90" x2="466.20" y2="376.10" stroke="#555" stroke-width="0.7"/>
<text x="454.10" y="375.30" font-size="6.2" fill="#444" text-anchor="middle" stroke="#444" stroke-width="0.1">***</text>
<line x1="466.20" y1="371.10" x2="490.50" y2="371.10" stroke="#555" stroke-width="0.7"/>
<line x1="466.20" y1="371.10" x2="466.20" y2="372.30" stroke="#555" stroke-width="0.7"/>
<line x1="490.50" y1="371.10" x2="490.50" y2="372.30" stroke="#555" stroke-width="0.7"/>
<text x="478.40" y="371.50" font-size="6.2" fill="#444" text-anchor="middle" stroke="#444" stroke-width="0.1">***</text>
<text x="442.80" y="423.90" font-size="5.9" fill="#333" text-anchor="middle" textLength="10.60" lengthAdjust="spacingAndGlyphs" stroke="#333" stroke-width="0.16">Low</text>
<text x="466.60" y="423.90" font-size="5.9" fill="#333" text-anchor="middle" textLength="30.60" lengthAdjust="spacingAndGlyphs" stroke="#333" stroke-width="0.16">Intermediate</text>
<text x="489.80" y="423.90" font-size="5.9" fill="#333" text-anchor="middle" textLength="11.70" lengthAdjust="spacingAndGlyphs" stroke="#333" stroke-width="0.16">High</text>
<line x1="436.40" y1="427.50" x2="498.40" y2="427.50" stroke="#555" stroke-width="0.8"/>
<text x="467.60" y="435.90" font-size="5.9" fill="#333" text-anchor="middle" textLength="53.90" lengthAdjust="spacingAndGlyphs" stroke="#333" stroke-width="0.16">COG risk classification</text>
<text x="6.40" y="471.00" font-size="11.2" fill="#111" font-weight="bold">H</text>
<text x="86.50" y="482.40" font-size="7.1" fill="#3a3a3a" text-anchor="middle" textLength="110.00" lengthAdjust="spacingAndGlyphs" stroke="#3a3a3a" stroke-width="0.05">Pediatric AML microarray cohort</text>
<path d="M36.00,540.7 L36.00,533.80 C36.68,533.25 38.77,530.60 40.10,530.50 C41.43,530.40 42.52,532.40 44.00,533.20 C45.48,534.00 47.50,535.83 49.00,535.30 C50.50,534.77 51.67,533.05 53.00,530.00 C54.33,526.95 55.67,522.00 57.00,517.00 C58.33,512.00 59.42,504.55 61.00,500.00 C62.58,495.45 65.00,490.53 66.50,489.70 C68.00,488.87 68.95,492.12 70.00,495.00 C71.05,497.88 71.80,503.17 72.80,507.00 C73.80,510.83 74.80,514.67 76.00,518.00 C77.20,521.33 78.50,524.33 80.00,527.00 C81.50,529.67 83.33,532.08 85.00,534.00 C86.67,535.92 88.17,537.43 90.00,538.50 C91.83,539.57 94.33,540.03 96.00,540.40 C97.67,540.77 99.33,540.65 100.00,540.70 L100.00,540.7 Z" fill="#dba4ac" fill-opacity="0.7" />
<path d="M36.00,533.80 C36.68,533.25 38.77,530.60 40.10,530.50 C41.43,530.40 42.52,532.40 44.00,533.20 C45.48,534.00 47.50,535.83 49.00,535.30 C50.50,534.77 51.67,533.05 53.00,530.00 C54.33,526.95 55.67,522.00 57.00,517.00 C58.33,512.00 59.42,504.55 61.00,500.00 C62.58,495.45 65.00,490.53 66.50,489.70 C68.00,488.87 68.95,492.12 70.00,495.00 C71.05,497.88 71.80,503.17 72.80,507.00 C73.80,510.83 74.80,514.67 76.00,518.00 C77.20,521.33 78.50,524.33 80.00,527.00 C81.50,529.67 83.33,532.08 85.00,534.00 C86.67,535.92 88.17,537.43 90.00,538.50 C91.83,539.57 94.33,540.03 96.00,540.40 C97.67,540.77 99.33,540.65 100.00,540.70" fill="none" stroke="#2a2a2a" stroke-width="0.75" />
<path d="M52.00,540.7 L52.00,540.60 C53.33,540.25 57.67,540.10 60.00,538.50 C62.33,536.90 64.17,534.92 66.00,531.00 C67.83,527.08 69.33,520.50 71.00,515.00 C72.67,509.50 74.25,502.03 76.00,498.00 C77.75,493.97 79.75,491.30 81.50,490.80 C83.25,490.30 85.08,492.80 86.50,495.00 C87.92,497.20 89.03,501.45 90.00,504.00 C90.97,506.55 91.30,507.63 92.30,510.30 C93.30,512.97 94.72,517.05 96.00,520.00 C97.28,522.95 98.33,525.50 100.00,528.00 C101.67,530.50 103.67,533.12 106.00,535.00 C108.33,536.88 111.33,538.37 114.00,539.30 C116.67,540.23 120.67,540.38 122.00,540.60 L122.00,540.7 Z" fill="#b4ddd5" fill-opacity="0.7" />
<path d="M52.00,540.60 C53.33,540.25 57.67,540.10 60.00,538.50 C62.33,536.90 64.17,534.92 66.00,531.00 C67.83,527.08 69.33,520.50 71.00,515.00 C72.67,509.50 74.25,502.03 76.00,498.00 C77.75,493.97 79.75,491.30 81.50,490.80 C83.25,490.30 85.08,492.80 86.50,495.00 C87.92,497.20 89.03,501.45 90.00,504.00 C90.97,506.55 91.30,507.63 92.30,510.30 C93.30,512.97 94.72,517.05 96.00,520.00 C97.28,522.95 98.33,525.50 100.00,528.00 C101.67,530.50 103.67,533.12 106.00,535.00 C108.33,536.88 111.33,538.37 114.00,539.30 C116.67,540.23 120.67,540.38 122.00,540.60" fill="none" stroke="#2a2a2a" stroke-width="0.75" />
<path d="M50.00,540.7 L50.00,540.60 C51.67,540.30 56.67,539.73 60.00,538.80 C63.33,537.87 67.00,536.72 70.00,535.00 C73.00,533.28 75.22,531.05 78.00,528.50 C80.78,525.95 84.03,522.62 86.70,519.70 C89.37,516.78 91.53,512.90 94.00,511.00 C96.47,509.10 99.17,508.38 101.50,508.30 C103.83,508.22 106.25,509.38 108.00,510.50 C109.75,511.62 110.72,513.25 112.00,515.00 C113.28,516.75 114.30,519.10 115.70,521.00 C117.10,522.90 118.35,524.57 120.40,526.40 C122.45,528.23 125.32,530.08 128.00,532.00 C130.68,533.92 135.08,536.92 136.50,537.90 L136.50,540.7 Z" fill="#f3b079" fill-opacity="0.7" />
<path d="M50.00,540.60 C51.67,540.30 56.67,539.73 60.00,538.80 C63.33,537.87 67.00,536.72 70.00,535.00 C73.00,533.28 75.22,531.05 78.00,528.50 C80.78,525.95 84.03,522.62 86.70,519.70 C89.37,516.78 91.53,512.90 94.00,511.00 C96.47,509.10 99.17,508.38 101.50,508.30 C103.83,508.22 106.25,509.38 108.00,510.50 C109.75,511.62 110.72,513.25 112.00,515.00 C113.28,516.75 114.30,519.10 115.70,521.00 C117.10,522.90 118.35,524.57 120.40,526.40 C122.45,528.23 125.32,530.08 128.00,532.00 C130.68,533.92 135.08,536.92 136.50,537.90" fill="none" stroke="#2a2a2a" stroke-width="0.75" />
<path d="M36.00,540.7 L36.00,540.40 C37.33,540.03 41.35,539.30 44.00,538.20 C46.65,537.10 49.57,535.67 51.90,533.80 C54.23,531.93 55.98,529.38 58.00,527.00 C60.02,524.62 62.17,521.75 64.00,519.50 C65.83,517.25 67.42,514.82 69.00,513.50 C70.58,512.18 72.00,511.72 73.50,511.60 C75.00,511.48 76.58,512.15 78.00,512.80 C79.42,513.45 80.52,514.47 82.00,515.50 C83.48,516.53 85.23,517.58 86.90,519.00 C88.57,520.42 90.15,522.17 92.00,524.00 C93.85,525.83 95.83,528.17 98.00,530.00 C100.17,531.83 102.67,533.58 105.00,535.00 C107.33,536.42 109.50,537.60 112.00,538.50 C114.50,539.40 118.67,540.08 120.00,540.40 L120.00,540.7 Z" fill="#bdb3d6" fill-opacity="0.7" />
<path d="M36.00,540.40 C37.33,540.03 41.35,539.30 44.00,538.20 C46.65,537.10 49.57,535.67 51.90,533.80 C54.23,531.93 55.98,529.38 58.00,527.00 C60.02,524.62 62.17,521.75 64.00,519.50 C65.83,517.25 67.42,514.82 69.00,513.50 C70.58,512.18 72.00,511.72 73.50,511.60 C75.00,511.48 76.58,512.15 78.00,512.80 C79.42,513.45 80.52,514.47 82.00,515.50 C83.48,516.53 85.23,517.58 86.90,519.00 C88.57,520.42 90.15,522.17 92.00,524.00 C93.85,525.83 95.83,528.17 98.00,530.00 C100.17,531.83 102.67,533.58 105.00,535.00 C107.33,536.42 109.50,537.60 112.00,538.50 C114.50,539.40 118.67,540.08 120.00,540.40" fill="none" stroke="#2a2a2a" stroke-width="0.75" />
<path d="M40.00,540.7 L40.00,540.40 C42.50,540.17 50.83,539.52 55.00,539.00 C59.17,538.48 62.37,537.93 65.00,537.30 C67.63,536.67 68.63,536.75 70.80,535.20 C72.97,533.65 75.53,530.47 78.00,528.00 C80.47,525.53 83.27,522.47 85.60,520.40 C87.93,518.33 89.60,516.77 92.00,515.60 C94.40,514.43 97.67,513.63 100.00,513.40 C102.33,513.17 104.00,513.43 106.00,514.20 C108.00,514.97 110.00,516.37 112.00,518.00 C114.00,519.63 116.33,522.50 118.00,524.00 C119.67,525.50 120.33,526.23 122.00,527.00 C123.67,527.77 126.17,528.03 128.00,528.60 C129.83,529.17 131.50,529.87 133.00,530.40 C134.50,530.93 136.33,531.57 137.00,531.80 L137.00,540.7 Z" fill="#9597b5" fill-opacity="0.7" />
<path d="M40.00,540.40 C42.50,540.17 50.83,539.52 55.00,539.00 C59.17,538.48 62.37,537.93 65.00,537.30 C67.63,536.67 68.63,536.75 70.80,535.20 C72.97,533.65 75.53,530.47 78.00,528.00 C80.47,525.53 83.27,522.47 85.60,520.40 C87.93,518.33 89.60,516.77 92.00,515.60 C94.40,514.43 97.67,513.63 100.00,513.40 C102.33,513.17 104.00,513.43 106.00,514.20 C108.00,514.97 110.00,516.37 112.00,518.00 C114.00,519.63 116.33,522.50 118.00,524.00 C119.67,525.50 120.33,526.23 122.00,527.00 C123.67,527.77 126.17,528.03 128.00,528.60 C129.83,529.17 131.50,529.87 133.00,530.40 C134.50,530.93 136.33,531.57 137.00,531.80" fill="none" stroke="#2a2a2a" stroke-width="0.75" />
<line x1="27.40" y1="487.70" x2="27.40" y2="544.00" stroke="#222" stroke-width="1.1"/>
<line x1="26.90" y1="543.50" x2="145.00" y2="543.50" stroke="#222" stroke-width="1.1"/>
<line x1="25.00" y1="503.30" x2="27.40" y2="503.30" stroke="#222" stroke-width="0.9"/>
<text x="21.60" y="505.30" font-size="5.6" fill="#555" text-anchor="end" stroke="#555" stroke-width="0.16">2</text>
<line x1="25.00" y1="522.10" x2="27.40" y2="522.10" stroke="#222" stroke-width="0.9"/>
<text x="21.60" y="524.10" font-size="5.6" fill="#555" text-anchor="end" stroke="#555" stroke-width="0.16">1</text>
<line x1="25.00" y1="540.70" x2="27.40" y2="540.70" stroke="#222" stroke-width="0.9"/>
<text x="21.60" y="542.70" font-size="5.6" fill="#555" text-anchor="end" stroke="#555" stroke-width="0.16">0</text>
<line x1="70.20" y1="543.50" x2="70.20" y2="545.80" stroke="#222" stroke-width="0.9"/>
<text x="70.20" y="554.30" font-size="5.6" fill="#555" text-anchor="middle" stroke="#555" stroke-width="0.16">2.0</text>
<line x1="107.20" y1="543.50" x2="107.20" y2="545.80" stroke="#222" stroke-width="0.9"/>
<text x="107.20" y="554.30" font-size="5.6" fill="#555" text-anchor="middle" stroke="#555" stroke-width="0.16">2.5</text>
<text x="12.80" y="515.80" font-size="7.4" fill="#333" text-anchor="middle" textLength="19.20" lengthAdjust="spacingAndGlyphs" transform="rotate(-90 12.80 515.80)" stroke="#333" stroke-width="0.16">Density</text>
<text x="86.20" y="566.20" font-size="6.8" fill="#444" text-anchor="middle" textLength="21.60" lengthAdjust="spacingAndGlyphs" stroke="#444" stroke-width="0.16">inScore</text>
<text x="44.90" y="495.90" font-size="5.8" fill="#d98c9a" textLength="15.40" lengthAdjust="spacingAndGlyphs" stroke="#d98c9a" stroke-width="0.16">t(8;21)</text>
<text x="88.70" y="494.80" font-size="5.8" fill="#7cc0b3" textLength="15.50" lengthAdjust="spacingAndGlyphs" stroke="#7cc0b3" stroke-width="0.16">inv(16)</text>
<text x="106.20" y="505.10" font-size="5.8" fill="#ec9c52" textLength="10.80" lengthAdjust="spacingAndGlyphs" stroke="#ec9c52" stroke-width="0.16">MLLr</text>
<text x="119.70" y="522.00" font-size="5.8" fill="#6f86b8" textLength="23.60" lengthAdjust="spacingAndGlyphs" stroke="#6f86b8" stroke-width="0.16">FLT3−ITD</text>
<text x="32.80" y="522.10" font-size="5.8" fill="#9a8fca" textLength="19.80" lengthAdjust="spacingAndGlyphs" stroke="#9a8fca" stroke-width="0.16">CEBPA−</text>
<text x="39.50" y="528.40" font-size="5.8" fill="#9a8fca" textLength="7.00" lengthAdjust="spacingAndGlyphs" stroke="#9a8fca" stroke-width="0.16">dm</text>
<text x="160.6" y="470.6" font-size="11.2" font-weight="bold" fill="#111">I</text>
<text x="254.20" y="482.80" font-size="7.2" fill="#3a3a3a" text-anchor="middle" textLength="121.60" lengthAdjust="spacingAndGlyphs" stroke="#3a3a3a" stroke-width="0.05">Multivariate Cox regression analysis</text>
<rect x="160.50" y="487.50" width="187.80" height="101.40" fill="#ffffff"/>
<rect x="160.50" y="487.50" width="187.80" height="16.10" fill="#d9d9d9"/>
<rect x="160.50" y="519.70" width="187.80" height="16.60" fill="#d9d9d9"/>
<rect x="160.50" y="552.50" width="187.80" height="16.60" fill="#d9d9d9"/>
<line x1="253.10" y1="487.50" x2="253.10" y2="569.10" stroke="#ababab" stroke-width="0.5"/>
<line x1="268.78" y1="487.50" x2="268.78" y2="569.10" stroke="#ababab" stroke-width="0.5"/>
<line x1="280.94" y1="487.50" x2="280.94" y2="569.10" stroke="#ababab" stroke-width="0.5"/>
<line x1="290.88" y1="487.50" x2="290.88" y2="569.10" stroke="#ababab" stroke-width="0.5"/>
<line x1="299.28" y1="487.50" x2="299.28" y2="569.10" stroke="#ababab" stroke-width="0.5"/>
<line x1="306.56" y1="487.50" x2="306.56" y2="569.10" stroke="#ababab" stroke-width="0.5"/>
<line x1="312.97" y1="487.50" x2="312.97" y2="569.10" stroke="#ababab" stroke-width="0.5"/>
<line x1="318.72" y1="487.50" x2="318.72" y2="569.10" stroke="#8a8a8a" stroke-width="0.5"/>
<line x1="231.00" y1="487.50" x2="231.00" y2="569.10" stroke="#666" stroke-width="0.7" stroke-dasharray="0.9 1.6"/>
<rect x="160.50" y="487.50" width="187.80" height="101.40" fill="none" stroke="#6a6a6a" stroke-width="1.0"/>
<text x="164.30" y="497.80" font-size="5.8" fill="#333" textLength="18.50" lengthAdjust="spacingAndGlyphs" stroke="#333" stroke-width="0.16">inScore</text>
<text x="164.30" y="530.40" font-size="5.8" fill="#333" textLength="25.80" lengthAdjust="spacingAndGlyphs" stroke="#333" stroke-width="0.16">Risk group</text>
<text x="196.50" y="494.50" font-size="5.8" fill="#333" stroke="#333" stroke-width="0.16">Low</text>
<text x="196.00" y="500.80" font-size="5.8" fill="#333" stroke="#333" stroke-width="0.16">(N = 144)</text>
<text x="196.50" y="510.60" font-size="5.8" fill="#333" stroke="#333" stroke-width="0.16">High</text>
<text x="196.00" y="517.00" font-size="5.8" fill="#333" stroke="#333" stroke-width="0.16">(N = 144)</text>
<text x="196.50" y="526.80" font-size="5.8" fill="#333" stroke="#333" stroke-width="0.16">Low</text>
<text x="196.00" y="533.30" font-size="5.8" fill="#333" stroke="#333" stroke-width="0.16">(N = 142)</text>
<text x="196.50" y="542.90" font-size="5.8" fill="#333" stroke="#333" stroke-width="0.16">Intermediate</text>
<text x="196.00" y="549.90" font-size="5.8" fill="#333" stroke="#333" stroke-width="0.16">(N = 70)</text>
<text x="196.50" y="559.10" font-size="5.8" fill="#333" stroke="#333" stroke-width="0.16">High</text>
<text x="196.00" y="566.00" font-size="5.8" fill="#333" stroke="#333" stroke-width="0.16">(N = 76)</text>
<rect x="229.90" y="492.10" width="2.30" height="3.30" fill="#111"/>
<rect x="229.90" y="526.60" width="2.30" height="3.30" fill="#111"/>
<line x1="234.50" y1="511.30" x2="288.90" y2="511.30" stroke="#333" stroke-width="0.8"/>
<line x1="234.50" y1="510.20" x2="234.50" y2="512.40" stroke="#333" stroke-width="0.7"/>
<line x1="288.90" y1="510.20" x2="288.90" y2="512.40" stroke="#333" stroke-width="0.7"/>
<rect x="260.51" y="509.90" width="2.60" height="2.80" fill="#111"/>
<text x="261.81" y="508.00" font-size="5.8" fill="#333" text-anchor="middle" stroke="#333" stroke-width="0.16">1.76</text>
<line x1="250.80" y1="543.90" x2="312.80" y2="543.90" stroke="#333" stroke-width="0.8"/>
<line x1="250.80" y1="542.80" x2="250.80" y2="545.00" stroke="#333" stroke-width="0.7"/>
<line x1="312.80" y1="542.80" x2="312.80" y2="545.00" stroke="#333" stroke-width="0.7"/>
<rect x="280.72" y="542.50" width="2.60" height="2.80" fill="#111"/>
<text x="282.02" y="541.20" font-size="5.8" fill="#333" text-anchor="middle" stroke="#333" stroke-width="0.16">2.55</text>
<line x1="254.20" y1="561.00" x2="315.50" y2="561.00" stroke="#333" stroke-width="0.8"/>
<line x1="254.20" y1="559.90" x2="254.20" y2="562.10" stroke="#333" stroke-width="0.7"/>
<line x1="315.50" y1="559.90" x2="315.50" y2="562.10" stroke="#333" stroke-width="0.7"/>
<rect x="283.83" y="559.60" width="2.60" height="2.80" fill="#111"/>
<text x="285.13" y="557.70" font-size="5.8" fill="#333" text-anchor="middle" stroke="#333" stroke-width="0.16">2.70</text>
<text x="321.80" y="512.40" font-size="5.6" fill="#333" font-style="italic" stroke="#333" stroke-width="0.16">P</text>
<text x="326.40" y="512.40" font-size="5.6" fill="#333" textLength="14.60" lengthAdjust="spacingAndGlyphs" stroke="#333" stroke-width="0.16">= .027</text>
<text x="321.80" y="546.20" font-size="5.6" fill="#333" font-style="italic" stroke="#333" stroke-width="0.16">P</text>
<text x="326.40" y="546.20" font-size="5.6" fill="#333" textLength="18.20" lengthAdjust="spacingAndGlyphs" stroke="#333" stroke-width="0.16">= .0012</text>
<text x="321.80" y="563.20" font-size="5.6" fill="#333" font-style="italic" stroke="#333" stroke-width="0.16">P</text>
<text x="326.40" y="563.20" font-size="5.6" fill="#333" textLength="13.80" lengthAdjust="spacingAndGlyphs" stroke="#333" stroke-width="0.16">&lt; .001</text>
<text x="231.20" y="575.10" font-size="5.6" fill="#333" text-anchor="middle" stroke="#333" stroke-width="0.16">0.0</text>
<text x="253.10" y="575.10" font-size="5.6" fill="#333" text-anchor="middle" stroke="#333" stroke-width="0.16">1.5</text>
<text x="268.78" y="575.10" font-size="5.6" fill="#333" text-anchor="middle" stroke="#333" stroke-width="0.16">2</text>
<text x="280.94" y="575.10" font-size="5.6" fill="#333" text-anchor="middle" stroke="#333" stroke-width="0.16">2.5</text>
<text x="290.88" y="575.10" font-size="5.6" fill="#333" text-anchor="middle" stroke="#333" stroke-width="0.16">3</text>
<text x="299.28" y="575.10" font-size="5.6" fill="#333" text-anchor="middle" stroke="#333" stroke-width="0.16">3.5</text>
<text x="306.56" y="575.10" font-size="5.6" fill="#333" text-anchor="middle" stroke="#333" stroke-width="0.16">4</text>
<text x="312.97" y="575.10" font-size="5.6" fill="#333" text-anchor="middle" stroke="#333" stroke-width="0.16">4.5</text>
<text x="318.72" y="575.10" font-size="5.6" fill="#333" text-anchor="middle" stroke="#333" stroke-width="0.16">5</text>
<text x="285.30" y="584.80" font-size="6.6" fill="#444" text-anchor="middle" textLength="31.80" lengthAdjust="spacingAndGlyphs" stroke="#444" stroke-width="0.16">Hazard ratio</text>
<rect x="0.5" y="0.5" width="519" height="595" fill="none" stroke="#5a5a5a" stroke-width="1"/>
</svg>
</body></html>
